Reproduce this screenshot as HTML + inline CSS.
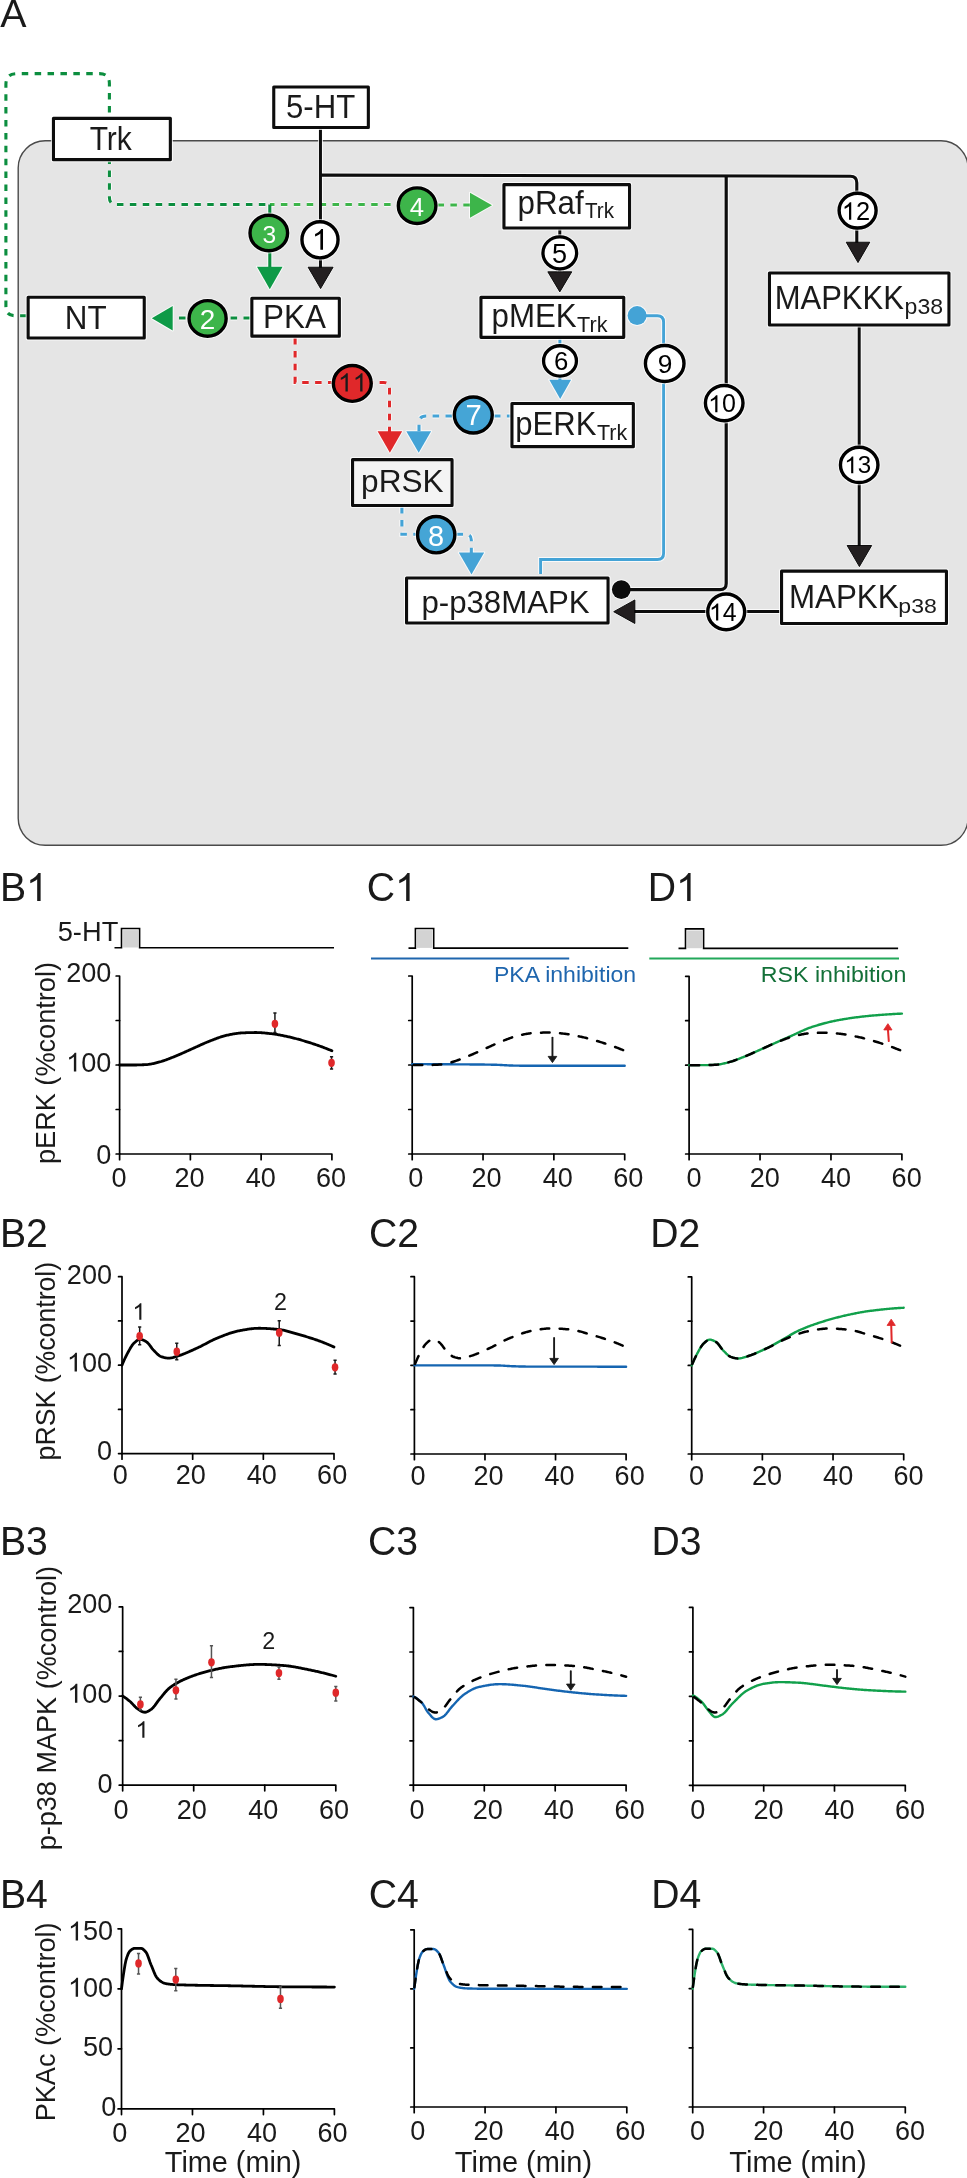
<!DOCTYPE html>
<html><head><meta charset="utf-8"><style>
html,body{margin:0;padding:0;background:#fff;}
body{width:967px;height:2178px;overflow:hidden;}
svg{display:block;font-family:"Liberation Sans", sans-serif;will-change:transform;}
</style></head><body>
<svg width="967" height="2178" viewBox="0 0 967 2178">
<text font-size="39.39" fill="#1a1a1a" transform="translate(0.22,27.00) scale(0.9993,1.0000)">A</text>
<rect x="18.2" y="140.8" width="949.8" height="704.5" rx="27" ry="27" fill="#e5e5e5" stroke="#4a4a4a" stroke-width="1.4"/>
<path d="M26.6,315.7 L14.9,315.7 Q5.9,315.7 5.9,306.7 L5.9,84.6 Q5.9,73.6 16.9,73.6 L99.4,73.6 Q109.4,73.6 109.4,83.6 L109.4,197.5 Q109.4,204.5 116.4,204.5 L269.5,204.5" fill="none" stroke="#fff" stroke-opacity="0.8" stroke-width="5.1" stroke-dasharray="6.5 6.4" />
<path d="M270,204.5 L397,204.5" fill="none" stroke="#fff" stroke-opacity="0.8" stroke-width="5.1" stroke-dasharray="6.5 6.4" stroke-dashoffset="2"/>
<path d="M437.5,205 L472,205" fill="none" stroke="#fff" stroke-opacity="0.8" stroke-width="5.1" stroke-dasharray="6.5 6.4" />
<polygon points="470.00,192.70 470.00,217.70 492.00,205.20" fill="#fff" fill-opacity="0.8" stroke="#fff" stroke-opacity="0.8" stroke-width="2" stroke-linejoin="round"/>
<path d="M269.8,204.5 L269.8,268" fill="none" stroke="#fff" stroke-opacity="0.8" stroke-width="5.1" />
<polygon points="257.00,266.70 282.60,266.70 269.80,289.20" fill="#fff" fill-opacity="0.8" stroke="#fff" stroke-opacity="0.8" stroke-width="2" stroke-linejoin="round"/>
<path d="M250,318 L173,318" fill="none" stroke="#fff" stroke-opacity="0.8" stroke-width="5.1" stroke-dasharray="6.5 6.4" />
<polygon points="172.70,306.00 172.70,330.60 151.80,318.30" fill="#fff" fill-opacity="0.8" stroke="#fff" stroke-opacity="0.8" stroke-width="2" stroke-linejoin="round"/>
<path d="M320.45,129 L320.45,268" fill="none" stroke="#fff" stroke-opacity="0.8" stroke-width="5.0" />
<polygon points="308.10,267.20 333.10,267.20 320.60,288.60" fill="#fff" fill-opacity="0.8" stroke="#fff" stroke-opacity="0.8" stroke-width="2" stroke-linejoin="round"/>
<path d="M320.45,175.15 L850.3,176.2 Q856.8,176.3 856.8,182.8 L856.8,243" fill="none" stroke="#fff" stroke-opacity="0.8" stroke-width="5.1" />
<polygon points="846.20,242.20 869.80,242.20 858.00,262.60" fill="#fff" fill-opacity="0.8" stroke="#fff" stroke-opacity="0.8" stroke-width="2" stroke-linejoin="round"/>
<path d="M726.2,176.0 L726.2,583.5 Q726.2,589.7 720.0,589.7 L625,589.7" fill="none" stroke="#fff" stroke-opacity="0.8" stroke-width="5.2" />
<circle cx="621.3" cy="589.6" r="10.4" fill="#fff" fill-opacity="0.8"/>
<path d="M859.2,326 L859.2,546" fill="none" stroke="#fff" stroke-opacity="0.8" stroke-width="5.0" />
<polygon points="847.10,545.50 871.70,545.50 859.40,566.60" fill="#fff" fill-opacity="0.8" stroke="#fff" stroke-opacity="0.8" stroke-width="2" stroke-linejoin="round"/>
<path d="M780.5,611.5 L634,611.5" fill="none" stroke="#fff" stroke-opacity="0.8" stroke-width="5.1" />
<polygon points="634.90,599.90 634.90,623.50 613.70,611.70" fill="#fff" fill-opacity="0.8" stroke="#fff" stroke-opacity="0.8" stroke-width="2" stroke-linejoin="round"/>
<path d="M559.8,229 L559.8,272" fill="none" stroke="#fff" stroke-opacity="0.8" stroke-width="5.0" />
<polygon points="547.80,271.80 571.80,271.80 559.80,291.90" fill="#fff" fill-opacity="0.8" stroke="#fff" stroke-opacity="0.8" stroke-width="2" stroke-linejoin="round"/>
<path d="M295.1,338 L295.1,382.5 L383.7,382.5 Q389.5,382.5 389.5,388.3 L389.5,432" fill="none" stroke="#fff" stroke-opacity="0.8" stroke-width="5.1" stroke-dasharray="6.5 6.4" />
<polygon points="377.60,431.30 402.20,431.30 389.90,452.80" fill="#fff" fill-opacity="0.8" stroke="#fff" stroke-opacity="0.8" stroke-width="2" stroke-linejoin="round"/>
<path d="M452,416.0 L426.0,416.0 Q419,416.0 419,423.0 L419,432" fill="none" stroke="#fff" stroke-opacity="0.8" stroke-width="5.1" stroke-dasharray="6.5 6.4" />
<path d="M494,416.0 L511,416.0" fill="none" stroke="#fff" stroke-opacity="0.8" stroke-width="5.1" stroke-dasharray="6.5 6.4" />
<polygon points="406.30,431.30 431.10,431.30 418.70,452.80" fill="#fff" fill-opacity="0.8" stroke="#fff" stroke-opacity="0.8" stroke-width="2" stroke-linejoin="round"/>
<path d="M401.9,507 L401.9,534.3 L416,534.3" fill="none" stroke="#fff" stroke-opacity="0.8" stroke-width="5.1" stroke-dasharray="6.5 6.4" />
<path d="M456.5,534.3 L465.5,534.3 Q471.3,534.3 471.3,540 L471.3,553" fill="none" stroke="#fff" stroke-opacity="0.8" stroke-width="5.1" stroke-dasharray="6.5 6.4" />
<polygon points="458.80,552.60 484.20,552.60 471.50,574.50" fill="#fff" fill-opacity="0.8" stroke="#fff" stroke-opacity="0.8" stroke-width="2" stroke-linejoin="round"/>
<path d="M637,315.7 L657.3,315.7 Q663.6,315.7 663.6,322.0 L663.6,553.2 Q663.6,559.5 657.3,559.5 L540.6,559.5 L540.6,574" fill="none" stroke="#fff" stroke-opacity="0.8" stroke-width="4.9" stroke-linejoin="miter"/>
<circle cx="637.1" cy="315.6" r="10.5" fill="#fff" fill-opacity="0.8"/>
<path d="M559.9,338 L559.9,381" fill="none" stroke="#fff" stroke-opacity="0.8" stroke-width="5.0" />
<polygon points="549.30,379.70 571.10,379.70 560.20,399.00" fill="#fff" fill-opacity="0.8" stroke="#fff" stroke-opacity="0.8" stroke-width="2" stroke-linejoin="round"/>
<path d="M26.6,315.7 L14.9,315.7 Q5.9,315.7 5.9,306.7 L5.9,84.6 Q5.9,73.6 16.9,73.6 L99.4,73.6 Q109.4,73.6 109.4,83.6 L109.4,197.5 Q109.4,204.5 116.4,204.5 L269.5,204.5" fill="none" stroke="#0c8e3f" stroke-width="3.1" stroke-dasharray="6.5 6.4" />
<path d="M270,204.5 L397,204.5" fill="none" stroke="#3db54a" stroke-width="3.1" stroke-dasharray="6.5 6.4" stroke-dashoffset="2"/>
<path d="M437.5,205 L472,205" fill="none" stroke="#3db54a" stroke-width="3.1" stroke-dasharray="6.5 6.4" />
<polygon points="470.00,192.70 470.00,217.70 492.00,205.20" fill="#3db54a"/>
<path d="M269.8,204.5 L269.8,268" fill="none" stroke="#0c8e3f" stroke-width="3.1" />
<polygon points="257.00,266.70 282.60,266.70 269.80,289.20" fill="#0e9a47"/>
<path d="M250,318 L173,318" fill="none" stroke="#0c8e3f" stroke-width="3.1" stroke-dasharray="6.5 6.4" />
<polygon points="172.70,306.00 172.70,330.60 151.80,318.30" fill="#0e9a47"/>
<path d="M320.45,129 L320.45,268" fill="none" stroke="#0d0d0d" stroke-width="3.0" />
<polygon points="308.10,267.20 333.10,267.20 320.60,288.60" fill="#231f20" stroke="#000" stroke-width="0.9"/>
<path d="M320.45,175.15 L850.3,176.2 Q856.8,176.3 856.8,182.8 L856.8,243" fill="none" stroke="#0d0d0d" stroke-width="3.1" />
<polygon points="846.20,242.20 869.80,242.20 858.00,262.60" fill="#231f20" stroke="#000" stroke-width="0.9"/>
<path d="M726.2,176.0 L726.2,583.5 Q726.2,589.7 720.0,589.7 L625,589.7" fill="none" stroke="#0d0d0d" stroke-width="3.2" />
<circle cx="621.3" cy="589.6" r="9.4" fill="#0d0d0d"/>
<path d="M859.2,326 L859.2,546" fill="none" stroke="#0d0d0d" stroke-width="3.0" />
<polygon points="847.10,545.50 871.70,545.50 859.40,566.60" fill="#231f20" stroke="#000" stroke-width="0.9"/>
<path d="M780.5,611.5 L634,611.5" fill="none" stroke="#0d0d0d" stroke-width="3.1" />
<polygon points="634.90,599.90 634.90,623.50 613.70,611.70" fill="#231f20" stroke="#000" stroke-width="0.9"/>
<path d="M559.8,229 L559.8,272" fill="none" stroke="#0d0d0d" stroke-width="3.0" />
<polygon points="547.80,271.80 571.80,271.80 559.80,291.90" fill="#231f20" stroke="#000" stroke-width="0.9"/>
<path d="M295.1,338 L295.1,382.5 L383.7,382.5 Q389.5,382.5 389.5,388.3 L389.5,432" fill="none" stroke="#e0282a" stroke-width="3.1" stroke-dasharray="6.5 6.4" />
<polygon points="377.60,431.30 402.20,431.30 389.90,452.80" fill="#e0282a"/>
<path d="M452,416.0 L426.0,416.0 Q419,416.0 419,423.0 L419,432" fill="none" stroke="#44a3d6" stroke-width="3.1" stroke-dasharray="6.5 6.4" />
<path d="M494,416.0 L511,416.0" fill="none" stroke="#44a3d6" stroke-width="3.1" stroke-dasharray="6.5 6.4" />
<polygon points="406.30,431.30 431.10,431.30 418.70,452.80" fill="#44a3d6"/>
<path d="M401.9,507 L401.9,534.3 L416,534.3" fill="none" stroke="#44a3d6" stroke-width="3.1" stroke-dasharray="6.5 6.4" />
<path d="M456.5,534.3 L465.5,534.3 Q471.3,534.3 471.3,540 L471.3,553" fill="none" stroke="#44a3d6" stroke-width="3.1" stroke-dasharray="6.5 6.4" />
<polygon points="458.80,552.60 484.20,552.60 471.50,574.50" fill="#44a3d6"/>
<path d="M637,315.7 L657.3,315.7 Q663.6,315.7 663.6,322.0 L663.6,553.2 Q663.6,559.5 657.3,559.5 L540.6,559.5 L540.6,574" fill="none" stroke="#44a3d6" stroke-width="2.9" stroke-linejoin="miter"/>
<circle cx="637.1" cy="315.6" r="9.5" fill="#44a3d6"/>
<path d="M559.9,338 L559.9,381" fill="none" stroke="#44a3d6" stroke-width="3.0" />
<polygon points="549.30,379.70 571.10,379.70 560.20,399.00" fill="#44a3d6"/>
<rect x="273.75" y="87.05" width="94.60" height="40.50" fill="none" stroke="#fff" stroke-opacity="0.8" stroke-width="5.1" stroke-linejoin="round"/>
<rect x="273.75" y="87.05" width="94.60" height="40.50" fill="#fff" stroke="#0d0d0d" stroke-width="3.1" stroke-linejoin="round"/>
<text font-size="32.70" fill="#1a1a1a" transform="translate(285.95,118.20) scale(0.9531,1.0000)">5-HT</text>
<rect x="53.45" y="118.35" width="116.90" height="41.30" fill="none" stroke="#fff" stroke-opacity="0.8" stroke-width="5.1" stroke-linejoin="round"/>
<rect x="53.45" y="118.35" width="116.90" height="41.30" fill="#fff" stroke="#0d0d0d" stroke-width="3.1" stroke-linejoin="round"/>
<text font-size="32.85" fill="#1a1a1a" transform="translate(89.63,149.50) scale(0.9136,1.0000)">Trk</text>
<rect x="28.15" y="297.25" width="116.10" height="40.80" fill="none" stroke="#fff" stroke-opacity="0.8" stroke-width="5.1" stroke-linejoin="round"/>
<rect x="28.15" y="297.25" width="116.10" height="40.80" fill="#fff" stroke="#0d0d0d" stroke-width="3.1" stroke-linejoin="round"/>
<text font-size="33.28" fill="#1a1a1a" transform="translate(64.82,328.80) scale(0.9443,1.0000)">NT</text>
<rect x="251.85" y="298.25" width="87.50" height="37.90" fill="none" stroke="#fff" stroke-opacity="0.8" stroke-width="5.1" stroke-linejoin="round"/>
<rect x="251.85" y="298.25" width="87.50" height="37.90" fill="#fff" stroke="#0d0d0d" stroke-width="3.1" stroke-linejoin="round"/>
<text font-size="33.14" fill="#1a1a1a" transform="translate(263.02,328.20) scale(0.9476,1.0000)">PKA</text>
<rect x="503.95" y="184.65" width="125.60" height="43.40" fill="none" stroke="#fff" stroke-opacity="0.8" stroke-width="5.1" stroke-linejoin="round"/>
<rect x="503.95" y="184.65" width="125.60" height="43.40" fill="#fff" stroke="#0d0d0d" stroke-width="3.1" stroke-linejoin="round"/>
<text font-size="32.41" fill="#1a1a1a" transform="translate(517.48,213.50) scale(0.9680,1.0000)">pRaf</text>
<text font-size="22.38" fill="#1a1a1a" transform="translate(584.94,218.40) scale(0.9231,1.0000)">Trk</text>
<rect x="480.95" y="297.35" width="142.80" height="40.00" fill="none" stroke="#fff" stroke-opacity="0.8" stroke-width="5.1" stroke-linejoin="round"/>
<rect x="480.95" y="297.35" width="142.80" height="40.00" fill="#fff" stroke="#0d0d0d" stroke-width="3.1" stroke-linejoin="round"/>
<text font-size="32.85" fill="#1a1a1a" transform="translate(491.58,327.00) scale(0.9521,1.0000)">pMEK</text>
<text font-size="21.95" fill="#1a1a1a" transform="translate(577.01,331.80) scale(0.9863,1.0000)">Trk</text>
<rect x="511.95" y="403.45" width="121.40" height="43.20" fill="none" stroke="#fff" stroke-opacity="0.8" stroke-width="5.1" stroke-linejoin="round"/>
<rect x="511.95" y="403.45" width="121.40" height="43.20" fill="#fff" stroke="#0d0d0d" stroke-width="3.1" stroke-linejoin="round"/>
<text font-size="32.70" fill="#1a1a1a" transform="translate(515.30,434.90) scale(0.9499,1.0000)">pERK</text>
<text font-size="21.95" fill="#1a1a1a" transform="translate(596.92,439.90) scale(0.9799,1.0000)">Trk</text>
<rect x="352.55" y="459.65" width="99.50" height="45.90" fill="none" stroke="#fff" stroke-opacity="0.8" stroke-width="5.1" stroke-linejoin="round"/>
<rect x="352.55" y="459.65" width="99.50" height="45.90" fill="#f4f4f4" stroke="#0d0d0d" stroke-width="3.1" stroke-linejoin="round"/>
<text font-size="32.12" fill="#1a1a1a" transform="translate(361.06,492.30) scale(0.9843,1.0000)">pRSK</text>
<rect x="406.55" y="577.95" width="201.50" height="45.10" fill="none" stroke="#fff" stroke-opacity="0.8" stroke-width="5.1" stroke-linejoin="round"/>
<rect x="406.55" y="577.95" width="201.50" height="45.10" fill="#fff" stroke="#0d0d0d" stroke-width="3.1" stroke-linejoin="round"/>
<text font-size="31.40" fill="#1a1a1a" transform="translate(421.39,613.20) scale(0.9940,1.0000)">p-p38MAPK</text>
<rect x="769.45" y="273.05" width="179.50" height="52.00" fill="none" stroke="#fff" stroke-opacity="0.8" stroke-width="5.1" stroke-linejoin="round"/>
<rect x="769.45" y="273.05" width="179.50" height="52.00" fill="#fff" stroke="#0d0d0d" stroke-width="3.1" stroke-linejoin="round"/>
<text font-size="32.85" fill="#1a1a1a" transform="translate(774.66,309.30) scale(0.9436,1.0000)">MAPKKK</text>
<text font-size="21.92" fill="#1a1a1a" transform="translate(904.61,314.40) scale(1.0524,1.0000)">p38</text>
<rect x="781.55" y="571.15" width="164.90" height="52.40" fill="none" stroke="#fff" stroke-opacity="0.8" stroke-width="5.1" stroke-linejoin="round"/>
<rect x="781.55" y="571.15" width="164.90" height="52.40" fill="#fff" stroke="#0d0d0d" stroke-width="3.1" stroke-linejoin="round"/>
<text font-size="33.14" fill="#1a1a1a" transform="translate(788.93,607.80) scale(0.9457,1.0000)">MAPKK</text>
<text font-size="21.06" fill="#1a1a1a" transform="translate(898.31,612.50) scale(1.0954,1.0000)">p38</text>
<ellipse cx="320.00" cy="239.80" rx="20.75" ry="20.75" fill="#ffffff" opacity="0.7"/>
<ellipse cx="320.00" cy="239.80" rx="18.05" ry="18.05" fill="#fff" stroke="#000" stroke-width="3.4"/>
<path d="M763,0 H583 V1147 Q518,1085 412,1023 T223,930 V1104 Q374,1175 487,1276 T647,1466 H763 Z" fill="#000" transform="translate(311.81,249.70) scale(0.01469,-0.01412)"/>
<ellipse cx="207.60" cy="318.40" rx="21.25" ry="20.50" fill="#ffffff" opacity="0.7"/>
<ellipse cx="207.60" cy="318.40" rx="18.55" ry="17.80" fill="#3db54a" stroke="#000" stroke-width="3.4"/>
<text font-size="27.94" fill="#fff" transform="translate(199.83,328.80) scale(1.0000,1.0000)">2</text>
<ellipse cx="268.80" cy="233.00" rx="21.50" ry="20.50" fill="#ffffff" opacity="0.7"/>
<ellipse cx="268.80" cy="233.00" rx="18.80" ry="17.80" fill="#3db54a" stroke="#000" stroke-width="3.4"/>
<text font-size="24.58" fill="#fff" transform="translate(262.49,242.86) scale(1.0000,1.0000)">3</text>
<ellipse cx="417.10" cy="205.70" rx="21.50" ry="20.50" fill="#ffffff" opacity="0.7"/>
<ellipse cx="417.10" cy="205.70" rx="18.80" ry="17.80" fill="#3db54a" stroke="#000" stroke-width="3.4"/>
<text font-size="25.73" fill="#fff" transform="translate(409.68,215.70) scale(1.0000,1.0000)">4</text>
<ellipse cx="559.80" cy="252.90" rx="19.50" ry="18.60" fill="#ffffff" opacity="0.7"/>
<ellipse cx="559.80" cy="252.90" rx="16.85" ry="15.95" fill="#fff" stroke="#000" stroke-width="3.3"/>
<text font-size="27.09" fill="#000" transform="translate(551.89,263.14) scale(1.0000,1.0000)">5</text>
<ellipse cx="560.00" cy="360.90" rx="19.10" ry="17.80" fill="#ffffff" opacity="0.7"/>
<ellipse cx="560.00" cy="360.90" rx="16.45" ry="15.15" fill="#fff" stroke="#000" stroke-width="3.3"/>
<text font-size="25.71" fill="#000" transform="translate(553.91,369.55) scale(1.0000,1.0000)">6</text>
<ellipse cx="473.30" cy="415.00" rx="21.65" ry="20.70" fill="#ffffff" opacity="0.7"/>
<ellipse cx="473.30" cy="415.00" rx="18.95" ry="18.00" fill="#45a5d6" stroke="#000" stroke-width="3.4"/>
<text font-size="29.22" fill="#fff" transform="translate(465.41,425.00) scale(1.0000,1.0000)">7</text>
<ellipse cx="436.20" cy="534.70" rx="21.35" ry="20.90" fill="#ffffff" opacity="0.7"/>
<ellipse cx="436.20" cy="534.70" rx="18.65" ry="18.20" fill="#45a5d6" stroke="#000" stroke-width="3.4"/>
<text font-size="28.96" fill="#fff" transform="translate(428.00,545.82) scale(1.0000,1.0000)">8</text>
<ellipse cx="664.70" cy="363.50" rx="22.00" ry="20.70" fill="#ffffff" opacity="0.7"/>
<ellipse cx="664.70" cy="363.50" rx="19.30" ry="18.00" fill="#fff" stroke="#000" stroke-width="3.4"/>
<text font-size="26.28" fill="#000" transform="translate(657.80,372.64) scale(1.0000,1.0000)">9</text>
<ellipse cx="724.20" cy="403.10" rx="21.50" ry="20.35" fill="#ffffff" opacity="0.7"/>
<ellipse cx="724.20" cy="403.10" rx="18.80" ry="17.65" fill="#fff" stroke="#000" stroke-width="3.4"/>
<path d="M763,0 H583 V1147 Q518,1085 412,1023 T223,930 V1104 Q374,1175 487,1276 T647,1466 H763 Z" fill="#000" transform="translate(708.12,412.36) scale(0.01221,-0.01173)"/>
<text font-size="25.01" fill="#000" transform="translate(722.03,412.36) scale(1.0000,1.0000)">0</text>
<ellipse cx="352.30" cy="383.40" rx="21.65" ry="20.65" fill="#ffffff" opacity="0.7"/>
<ellipse cx="352.30" cy="383.40" rx="18.95" ry="17.95" fill="#e0282a" stroke="#000" stroke-width="3.4"/>
<path d="M763,0 H583 V1147 Q518,1085 412,1023 T223,930 V1104 Q374,1175 487,1276 T647,1466 H763 Z" fill="#1a1a1a" transform="translate(337.93,391.40) scale(0.01292,-0.01241)"/>
<path d="M763,0 H583 V1147 Q518,1085 412,1023 T223,930 V1104 Q374,1175 487,1276 T647,1466 H763 Z" fill="#1a1a1a" transform="translate(352.64,391.40) scale(0.01292,-0.01241)"/>
<ellipse cx="857.60" cy="210.60" rx="21.20" ry="20.10" fill="#ffffff" opacity="0.7"/>
<ellipse cx="857.60" cy="210.60" rx="18.50" ry="17.40" fill="#fff" stroke="#000" stroke-width="3.4"/>
<path d="M763,0 H583 V1147 Q518,1085 412,1023 T223,930 V1104 Q374,1175 487,1276 T647,1466 H763 Z" fill="#000" transform="translate(841.80,219.80) scale(0.01238,-0.01190)"/>
<text font-size="25.36" fill="#000" transform="translate(855.91,219.80) scale(1.0000,1.0000)">2</text>
<ellipse cx="859.20" cy="464.90" rx="21.45" ry="20.35" fill="#ffffff" opacity="0.7"/>
<ellipse cx="859.20" cy="464.90" rx="18.75" ry="17.65" fill="#fff" stroke="#000" stroke-width="3.4"/>
<path d="M763,0 H583 V1147 Q518,1085 412,1023 T223,930 V1104 Q374,1175 487,1276 T647,1466 H763 Z" fill="#000" transform="translate(844.28,473.16) scale(0.01180,-0.01134)"/>
<text font-size="24.16" fill="#000" transform="translate(857.72,473.16) scale(1.0000,1.0000)">3</text>
<ellipse cx="726.20" cy="611.90" rx="21.15" ry="20.55" fill="#ffffff" opacity="0.7"/>
<ellipse cx="726.20" cy="611.90" rx="18.45" ry="17.85" fill="#fff" stroke="#000" stroke-width="3.4"/>
<path d="M763,0 H583 V1147 Q518,1085 412,1023 T223,930 V1104 Q374,1175 487,1276 T647,1466 H763 Z" fill="#000" transform="translate(708.99,620.60) scale(0.01214,-0.01166)"/>
<text font-size="24.85" fill="#000" transform="translate(722.81,620.60) scale(1.0000,1.0000)">4</text>
<text font-size="40.40" fill="#1a1a1a" transform="translate(-0.11,900.90) scale(0.9700,1.0000)">B</text>
<path d="M763,0 H583 V1147 Q518,1085 412,1023 T223,930 V1104 Q374,1175 487,1276 T647,1466 H763 Z" fill="#1a1a1a" transform="translate(26.02,900.90) scale(0.01913,-0.01896)"/>
<text font-size="40.40" fill="#1a1a1a" transform="translate(366.71,900.90) scale(0.9700,1.0000)">C</text>
<path d="M763,0 H583 V1147 Q518,1085 412,1023 T223,930 V1104 Q374,1175 487,1276 T647,1466 H763 Z" fill="#1a1a1a" transform="translate(395.01,900.90) scale(0.01913,-0.01896)"/>
<text font-size="40.40" fill="#1a1a1a" transform="translate(647.69,900.90) scale(0.9700,1.0000)">D</text>
<path d="M763,0 H583 V1147 Q518,1085 412,1023 T223,930 V1104 Q374,1175 487,1276 T647,1466 H763 Z" fill="#1a1a1a" transform="translate(675.99,900.90) scale(0.01913,-0.01896)"/>
<text font-size="40.40" fill="#1a1a1a" transform="translate(-0.11,1246.70) scale(0.9700,1.0000)">B2</text>
<text font-size="40.40" fill="#1a1a1a" transform="translate(368.91,1246.70) scale(0.9700,1.0000)">C2</text>
<text font-size="40.40" fill="#1a1a1a" transform="translate(650.29,1246.70) scale(0.9700,1.0000)">D2</text>
<text font-size="40.40" fill="#1a1a1a" transform="translate(-0.11,1554.70) scale(0.9700,1.0000)">B3</text>
<text font-size="40.40" fill="#1a1a1a" transform="translate(367.91,1554.70) scale(0.9700,1.0000)">C3</text>
<text font-size="40.40" fill="#1a1a1a" transform="translate(651.49,1554.70) scale(0.9700,1.0000)">D3</text>
<text font-size="40.40" fill="#1a1a1a" transform="translate(-0.11,1908.40) scale(0.9700,1.0000)">B4</text>
<text font-size="40.40" fill="#1a1a1a" transform="translate(368.71,1908.40) scale(0.9700,1.0000)">C4</text>
<text font-size="40.40" fill="#1a1a1a" transform="translate(651.29,1908.40) scale(0.9700,1.0000)">D4</text>
<rect x="123.10" y="930.10" width="14.90" height="17.40" fill="#d3d3d3"/>
<path d="M114.50,947.70 L121.50,947.70 L121.50,928.50 L139.60,928.50 L139.60,947.70 L334.00,947.70" fill="none" stroke="#000" stroke-width="1.6" />
<text font-size="27.91" fill="#1a1a1a" transform="translate(57.71,941.40) scale(0.9775,1.0000)">5-HT</text>
<rect x="417.00" y="930.10" width="15.10" height="17.80" fill="#d3d3d3"/>
<path d="M408.50,948.10 L415.40,948.10 L415.40,928.50 L433.70,928.50 L433.70,948.10 L628.30,948.10" fill="none" stroke="#000" stroke-width="1.6" />
<rect x="687.10" y="930.50" width="14.90" height="17.70" fill="#d3d3d3"/>
<path d="M678.50,948.40 L685.50,948.40 L685.50,928.90 L703.60,928.90 L703.60,948.40 L898.10,948.40" fill="none" stroke="#000" stroke-width="1.6" />
<path d="M371,958.6 L569.2,958.6" fill="none" stroke="#1f66ae" stroke-width="2.0" />
<text font-size="21.53" fill="#1f66ae" transform="translate(493.91,982.00) scale(1.0712,1.0000)">PKA inhibition</text>
<path d="M649.3,958.5 L899.0,958.5" fill="none" stroke="#22a85a" stroke-width="2.0" />
<text font-size="21.53" fill="#137038" transform="translate(760.80,982.00) scale(1.0767,1.0000)">RSK inhibition</text>
<path d="M116.15,976.00 L119.60,976.00 L119.60,1154.00 L331.90,1154.00 L331.90,1159.65" fill="none" stroke="#000" stroke-width="1.7" stroke-linecap="round" stroke-linejoin="round"/>
<path d="M116.15,1109.50 L119.60,1109.50" fill="none" stroke="#000" stroke-width="1.7" stroke-linecap="round" stroke-linejoin="round"/>
<path d="M116.15,1065.00 L119.60,1065.00" fill="none" stroke="#000" stroke-width="1.7" stroke-linecap="round" stroke-linejoin="round"/>
<path d="M116.15,1020.50 L119.60,1020.50" fill="none" stroke="#000" stroke-width="1.7" stroke-linecap="round" stroke-linejoin="round"/>
<path d="M116.15,1154.00 L119.60,1154.00" fill="none" stroke="#000" stroke-width="1.7" stroke-linecap="round" stroke-linejoin="round"/>
<path d="M119.60,1154.00 L119.60,1159.65" fill="none" stroke="#000" stroke-width="1.7" stroke-linecap="round" stroke-linejoin="round"/>
<text font-size="27.50" fill="#1a1a1a" transform="translate(111.42,1186.53) scale(0.9850,1.0000)">0</text>
<path d="M190.37,1154.00 L190.37,1159.65" fill="none" stroke="#000" stroke-width="1.7" stroke-linecap="round" stroke-linejoin="round"/>
<text font-size="27.50" fill="#1a1a1a" transform="translate(174.50,1186.53) scale(0.9850,1.0000)">20</text>
<path d="M261.13,1154.00 L261.13,1159.65" fill="none" stroke="#000" stroke-width="1.7" stroke-linecap="round" stroke-linejoin="round"/>
<text font-size="27.50" fill="#1a1a1a" transform="translate(245.64,1186.53) scale(0.9850,1.0000)">40</text>
<text font-size="27.50" fill="#1a1a1a" transform="translate(316.03,1186.53) scale(0.9850,1.0000)">60</text>
<text font-size="27.50" fill="#1a1a1a" transform="translate(66.16,982.36) scale(0.9850,1.0000)">200</text>
<path d="M763,0 H583 V1147 Q518,1085 412,1023 T223,930 V1104 Q374,1175 487,1276 T647,1466 H763 Z" fill="#1a1a1a" transform="translate(66.16,1071.61) scale(0.01323,-0.01290)"/>
<text font-size="27.50" fill="#1a1a1a" transform="translate(81.23,1071.61) scale(0.9850,1.0000)">00</text>
<text font-size="27.50" fill="#1a1a1a" transform="translate(96.29,1163.86) scale(0.9850,1.0000)">0</text>
<text font-size="27.91" fill="#1a1a1a" transform="translate(54.80,1164.05) rotate(-90) scale(0.9722,1)">pERK (%control)</text>
<path d="M408.75,976.00 L412.20,976.00 L412.20,1154.00 L624.70,1154.00 L624.70,1159.65" fill="none" stroke="#000" stroke-width="1.7" stroke-linecap="round" stroke-linejoin="round"/>
<path d="M408.75,1109.50 L412.20,1109.50" fill="none" stroke="#000" stroke-width="1.7" stroke-linecap="round" stroke-linejoin="round"/>
<path d="M408.75,1065.00 L412.20,1065.00" fill="none" stroke="#000" stroke-width="1.7" stroke-linecap="round" stroke-linejoin="round"/>
<path d="M408.75,1020.50 L412.20,1020.50" fill="none" stroke="#000" stroke-width="1.7" stroke-linecap="round" stroke-linejoin="round"/>
<path d="M408.75,1154.00 L412.20,1154.00" fill="none" stroke="#000" stroke-width="1.7" stroke-linecap="round" stroke-linejoin="round"/>
<path d="M412.20,1154.00 L412.20,1159.65" fill="none" stroke="#000" stroke-width="1.7" stroke-linecap="round" stroke-linejoin="round"/>
<text font-size="27.50" fill="#1a1a1a" transform="translate(408.37,1186.53) scale(0.9850,1.0000)">0</text>
<path d="M483.03,1154.00 L483.03,1159.65" fill="none" stroke="#000" stroke-width="1.7" stroke-linecap="round" stroke-linejoin="round"/>
<text font-size="27.50" fill="#1a1a1a" transform="translate(471.52,1186.53) scale(0.9850,1.0000)">20</text>
<path d="M553.87,1154.00 L553.87,1159.65" fill="none" stroke="#000" stroke-width="1.7" stroke-linecap="round" stroke-linejoin="round"/>
<text font-size="27.50" fill="#1a1a1a" transform="translate(542.72,1186.53) scale(0.9850,1.0000)">40</text>
<text font-size="27.50" fill="#1a1a1a" transform="translate(613.18,1186.53) scale(0.9850,1.0000)">60</text>
<path d="M685.65,976.30 L689.10,976.30 L689.10,1154.00 L901.90,1154.00 L901.90,1159.65" fill="none" stroke="#000" stroke-width="1.7" stroke-linecap="round" stroke-linejoin="round"/>
<path d="M685.65,1109.58 L689.10,1109.58" fill="none" stroke="#000" stroke-width="1.7" stroke-linecap="round" stroke-linejoin="round"/>
<path d="M685.65,1065.15 L689.10,1065.15" fill="none" stroke="#000" stroke-width="1.7" stroke-linecap="round" stroke-linejoin="round"/>
<path d="M685.65,1020.72 L689.10,1020.72" fill="none" stroke="#000" stroke-width="1.7" stroke-linecap="round" stroke-linejoin="round"/>
<path d="M685.65,1154.00 L689.10,1154.00" fill="none" stroke="#000" stroke-width="1.7" stroke-linecap="round" stroke-linejoin="round"/>
<path d="M689.10,1154.00 L689.10,1159.65" fill="none" stroke="#000" stroke-width="1.7" stroke-linecap="round" stroke-linejoin="round"/>
<text font-size="27.50" fill="#1a1a1a" transform="translate(686.47,1186.53) scale(0.9850,1.0000)">0</text>
<path d="M760.03,1154.00 L760.03,1159.65" fill="none" stroke="#000" stroke-width="1.7" stroke-linecap="round" stroke-linejoin="round"/>
<text font-size="27.50" fill="#1a1a1a" transform="translate(749.72,1186.53) scale(0.9850,1.0000)">20</text>
<path d="M830.97,1154.00 L830.97,1159.65" fill="none" stroke="#000" stroke-width="1.7" stroke-linecap="round" stroke-linejoin="round"/>
<text font-size="27.50" fill="#1a1a1a" transform="translate(821.02,1186.53) scale(0.9850,1.0000)">40</text>
<text font-size="27.50" fill="#1a1a1a" transform="translate(891.58,1186.53) scale(0.9850,1.0000)">60</text>
<path d="M118.55,1276.70 L122.00,1276.70 L122.00,1453.60 L334.00,1453.60 L334.00,1459.25" fill="none" stroke="#000" stroke-width="1.7" stroke-linecap="round" stroke-linejoin="round"/>
<path d="M118.55,1409.38 L122.00,1409.38" fill="none" stroke="#000" stroke-width="1.7" stroke-linecap="round" stroke-linejoin="round"/>
<path d="M118.55,1365.15 L122.00,1365.15" fill="none" stroke="#000" stroke-width="1.7" stroke-linecap="round" stroke-linejoin="round"/>
<path d="M118.55,1320.92 L122.00,1320.92" fill="none" stroke="#000" stroke-width="1.7" stroke-linecap="round" stroke-linejoin="round"/>
<path d="M118.55,1453.60 L122.00,1453.60" fill="none" stroke="#000" stroke-width="1.7" stroke-linecap="round" stroke-linejoin="round"/>
<path d="M122.00,1453.60 L122.00,1459.25" fill="none" stroke="#000" stroke-width="1.7" stroke-linecap="round" stroke-linejoin="round"/>
<text font-size="27.50" fill="#1a1a1a" transform="translate(112.77,1484.13) scale(0.9850,1.0000)">0</text>
<path d="M192.67,1453.60 L192.67,1459.25" fill="none" stroke="#000" stroke-width="1.7" stroke-linecap="round" stroke-linejoin="round"/>
<text font-size="27.50" fill="#1a1a1a" transform="translate(175.75,1484.13) scale(0.9850,1.0000)">20</text>
<path d="M263.33,1453.60 L263.33,1459.25" fill="none" stroke="#000" stroke-width="1.7" stroke-linecap="round" stroke-linejoin="round"/>
<text font-size="27.50" fill="#1a1a1a" transform="translate(246.79,1484.13) scale(0.9850,1.0000)">40</text>
<text font-size="27.50" fill="#1a1a1a" transform="translate(317.08,1484.13) scale(0.9850,1.0000)">60</text>
<text font-size="27.50" fill="#1a1a1a" transform="translate(66.86,1284.06) scale(0.9850,1.0000)">200</text>
<path d="M763,0 H583 V1147 Q518,1085 412,1023 T223,930 V1104 Q374,1175 487,1276 T647,1466 H763 Z" fill="#1a1a1a" transform="translate(66.86,1371.61) scale(0.01323,-0.01290)"/>
<text font-size="27.50" fill="#1a1a1a" transform="translate(81.93,1371.61) scale(0.9850,1.0000)">00</text>
<text font-size="27.50" fill="#1a1a1a" transform="translate(96.99,1460.21) scale(0.9850,1.0000)">0</text>
<text font-size="28.05" fill="#1a1a1a" transform="translate(55.10,1460.42) rotate(-90) scale(0.9511,1)">pRSK (%control)</text>
<path d="M410.95,1276.70 L414.40,1276.70 L414.40,1454.00 L626.10,1454.00 L626.10,1459.65" fill="none" stroke="#000" stroke-width="1.7" stroke-linecap="round" stroke-linejoin="round"/>
<path d="M410.95,1409.67 L414.40,1409.67" fill="none" stroke="#000" stroke-width="1.7" stroke-linecap="round" stroke-linejoin="round"/>
<path d="M410.95,1365.35 L414.40,1365.35" fill="none" stroke="#000" stroke-width="1.7" stroke-linecap="round" stroke-linejoin="round"/>
<path d="M410.95,1321.03 L414.40,1321.03" fill="none" stroke="#000" stroke-width="1.7" stroke-linecap="round" stroke-linejoin="round"/>
<path d="M410.95,1454.00 L414.40,1454.00" fill="none" stroke="#000" stroke-width="1.7" stroke-linecap="round" stroke-linejoin="round"/>
<path d="M414.40,1454.00 L414.40,1459.65" fill="none" stroke="#000" stroke-width="1.7" stroke-linecap="round" stroke-linejoin="round"/>
<text font-size="27.50" fill="#1a1a1a" transform="translate(410.57,1484.53) scale(0.9850,1.0000)">0</text>
<path d="M484.97,1454.00 L484.97,1459.65" fill="none" stroke="#000" stroke-width="1.7" stroke-linecap="round" stroke-linejoin="round"/>
<text font-size="27.50" fill="#1a1a1a" transform="translate(473.45,1484.53) scale(0.9850,1.0000)">20</text>
<path d="M555.53,1454.00 L555.53,1459.65" fill="none" stroke="#000" stroke-width="1.7" stroke-linecap="round" stroke-linejoin="round"/>
<text font-size="27.50" fill="#1a1a1a" transform="translate(544.39,1484.53) scale(0.9850,1.0000)">40</text>
<text font-size="27.50" fill="#1a1a1a" transform="translate(614.58,1484.53) scale(0.9850,1.0000)">60</text>
<path d="M688.25,1276.90 L691.70,1276.90 L691.70,1454.00 L903.70,1454.00 L903.70,1459.65" fill="none" stroke="#000" stroke-width="1.7" stroke-linecap="round" stroke-linejoin="round"/>
<path d="M688.25,1409.72 L691.70,1409.72" fill="none" stroke="#000" stroke-width="1.7" stroke-linecap="round" stroke-linejoin="round"/>
<path d="M688.25,1365.45 L691.70,1365.45" fill="none" stroke="#000" stroke-width="1.7" stroke-linecap="round" stroke-linejoin="round"/>
<path d="M688.25,1321.18 L691.70,1321.18" fill="none" stroke="#000" stroke-width="1.7" stroke-linecap="round" stroke-linejoin="round"/>
<path d="M688.25,1454.00 L691.70,1454.00" fill="none" stroke="#000" stroke-width="1.7" stroke-linecap="round" stroke-linejoin="round"/>
<path d="M691.70,1454.00 L691.70,1459.65" fill="none" stroke="#000" stroke-width="1.7" stroke-linecap="round" stroke-linejoin="round"/>
<text font-size="27.50" fill="#1a1a1a" transform="translate(689.07,1484.53) scale(0.9850,1.0000)">0</text>
<path d="M762.37,1454.00 L762.37,1459.65" fill="none" stroke="#000" stroke-width="1.7" stroke-linecap="round" stroke-linejoin="round"/>
<text font-size="27.50" fill="#1a1a1a" transform="translate(752.05,1484.53) scale(0.9850,1.0000)">20</text>
<path d="M833.03,1454.00 L833.03,1459.65" fill="none" stroke="#000" stroke-width="1.7" stroke-linecap="round" stroke-linejoin="round"/>
<text font-size="27.50" fill="#1a1a1a" transform="translate(823.09,1484.53) scale(0.9850,1.0000)">40</text>
<text font-size="27.50" fill="#1a1a1a" transform="translate(893.38,1484.53) scale(0.9850,1.0000)">60</text>
<path d="M119.20,1606.90 L122.65,1606.90 L122.65,1785.15 L335.80,1785.15 L335.80,1790.80" fill="none" stroke="#000" stroke-width="1.7" stroke-linecap="round" stroke-linejoin="round"/>
<path d="M119.20,1740.59 L122.65,1740.59" fill="none" stroke="#000" stroke-width="1.7" stroke-linecap="round" stroke-linejoin="round"/>
<path d="M119.20,1696.03 L122.65,1696.03" fill="none" stroke="#000" stroke-width="1.7" stroke-linecap="round" stroke-linejoin="round"/>
<path d="M119.20,1651.46 L122.65,1651.46" fill="none" stroke="#000" stroke-width="1.7" stroke-linecap="round" stroke-linejoin="round"/>
<path d="M119.20,1785.15 L122.65,1785.15" fill="none" stroke="#000" stroke-width="1.7" stroke-linecap="round" stroke-linejoin="round"/>
<path d="M122.65,1785.15 L122.65,1790.80" fill="none" stroke="#000" stroke-width="1.7" stroke-linecap="round" stroke-linejoin="round"/>
<text font-size="27.50" fill="#1a1a1a" transform="translate(113.42,1818.98) scale(0.9850,1.0000)">0</text>
<path d="M193.70,1785.15 L193.70,1790.80" fill="none" stroke="#000" stroke-width="1.7" stroke-linecap="round" stroke-linejoin="round"/>
<text font-size="27.50" fill="#1a1a1a" transform="translate(176.78,1818.98) scale(0.9850,1.0000)">20</text>
<path d="M264.75,1785.15 L264.75,1790.80" fill="none" stroke="#000" stroke-width="1.7" stroke-linecap="round" stroke-linejoin="round"/>
<text font-size="27.50" fill="#1a1a1a" transform="translate(248.20,1818.98) scale(0.9850,1.0000)">40</text>
<text font-size="27.50" fill="#1a1a1a" transform="translate(318.88,1818.98) scale(0.9850,1.0000)">60</text>
<text font-size="27.50" fill="#1a1a1a" transform="translate(67.26,1613.46) scale(0.9850,1.0000)">200</text>
<path d="M763,0 H583 V1147 Q518,1085 412,1023 T223,930 V1104 Q374,1175 487,1276 T647,1466 H763 Z" fill="#1a1a1a" transform="translate(67.26,1702.71) scale(0.01323,-0.01290)"/>
<text font-size="27.50" fill="#1a1a1a" transform="translate(82.33,1702.71) scale(0.9850,1.0000)">00</text>
<text font-size="27.50" fill="#1a1a1a" transform="translate(97.39,1793.21) scale(0.9850,1.0000)">0</text>
<text font-size="28.49" fill="#1a1a1a" transform="translate(55.90,1850.35) rotate(-90) scale(0.9505,1)">p-p38 MAPK (%control)</text>
<path d="M409.95,1607.60 L413.40,1607.60 L413.40,1785.20 L626.10,1785.20 L626.10,1790.85" fill="none" stroke="#000" stroke-width="1.7" stroke-linecap="round" stroke-linejoin="round"/>
<path d="M409.95,1740.80 L413.40,1740.80" fill="none" stroke="#000" stroke-width="1.7" stroke-linecap="round" stroke-linejoin="round"/>
<path d="M409.95,1696.40 L413.40,1696.40" fill="none" stroke="#000" stroke-width="1.7" stroke-linecap="round" stroke-linejoin="round"/>
<path d="M409.95,1652.00 L413.40,1652.00" fill="none" stroke="#000" stroke-width="1.7" stroke-linecap="round" stroke-linejoin="round"/>
<path d="M409.95,1785.20 L413.40,1785.20" fill="none" stroke="#000" stroke-width="1.7" stroke-linecap="round" stroke-linejoin="round"/>
<path d="M413.40,1785.20 L413.40,1790.85" fill="none" stroke="#000" stroke-width="1.7" stroke-linecap="round" stroke-linejoin="round"/>
<text font-size="27.50" fill="#1a1a1a" transform="translate(409.57,1819.03) scale(0.9850,1.0000)">0</text>
<path d="M484.30,1785.20 L484.30,1790.85" fill="none" stroke="#000" stroke-width="1.7" stroke-linecap="round" stroke-linejoin="round"/>
<text font-size="27.50" fill="#1a1a1a" transform="translate(472.78,1819.03) scale(0.9850,1.0000)">20</text>
<path d="M555.20,1785.20 L555.20,1790.85" fill="none" stroke="#000" stroke-width="1.7" stroke-linecap="round" stroke-linejoin="round"/>
<text font-size="27.50" fill="#1a1a1a" transform="translate(544.05,1819.03) scale(0.9850,1.0000)">40</text>
<text font-size="27.50" fill="#1a1a1a" transform="translate(614.58,1819.03) scale(0.9850,1.0000)">60</text>
<path d="M689.45,1607.40 L692.90,1607.40 L692.90,1785.30 L905.30,1785.30 L905.30,1790.95" fill="none" stroke="#000" stroke-width="1.7" stroke-linecap="round" stroke-linejoin="round"/>
<path d="M689.45,1740.83 L692.90,1740.83" fill="none" stroke="#000" stroke-width="1.7" stroke-linecap="round" stroke-linejoin="round"/>
<path d="M689.45,1696.35 L692.90,1696.35" fill="none" stroke="#000" stroke-width="1.7" stroke-linecap="round" stroke-linejoin="round"/>
<path d="M689.45,1651.88 L692.90,1651.88" fill="none" stroke="#000" stroke-width="1.7" stroke-linecap="round" stroke-linejoin="round"/>
<path d="M689.45,1785.30 L692.90,1785.30" fill="none" stroke="#000" stroke-width="1.7" stroke-linecap="round" stroke-linejoin="round"/>
<path d="M692.90,1785.30 L692.90,1790.95" fill="none" stroke="#000" stroke-width="1.7" stroke-linecap="round" stroke-linejoin="round"/>
<text font-size="27.50" fill="#1a1a1a" transform="translate(690.27,1819.13) scale(0.9850,1.0000)">0</text>
<path d="M763.70,1785.30 L763.70,1790.95" fill="none" stroke="#000" stroke-width="1.7" stroke-linecap="round" stroke-linejoin="round"/>
<text font-size="27.50" fill="#1a1a1a" transform="translate(753.38,1819.13) scale(0.9850,1.0000)">20</text>
<path d="M834.50,1785.30 L834.50,1790.95" fill="none" stroke="#000" stroke-width="1.7" stroke-linecap="round" stroke-linejoin="round"/>
<text font-size="27.50" fill="#1a1a1a" transform="translate(824.55,1819.13) scale(0.9850,1.0000)">40</text>
<text font-size="27.50" fill="#1a1a1a" transform="translate(894.98,1819.13) scale(0.9850,1.0000)">60</text>
<path d="M118.05,1928.80 L121.50,1928.80 L121.50,2108.90 L334.40,2108.90 L334.40,2114.55" fill="none" stroke="#000" stroke-width="1.7" stroke-linecap="round" stroke-linejoin="round"/>
<path d="M118.05,2048.87 L121.50,2048.87" fill="none" stroke="#000" stroke-width="1.7" stroke-linecap="round" stroke-linejoin="round"/>
<path d="M118.05,1988.83 L121.50,1988.83" fill="none" stroke="#000" stroke-width="1.7" stroke-linecap="round" stroke-linejoin="round"/>
<path d="M118.05,2108.90 L121.50,2108.90" fill="none" stroke="#000" stroke-width="1.7" stroke-linecap="round" stroke-linejoin="round"/>
<path d="M121.50,2108.90 L121.50,2114.55" fill="none" stroke="#000" stroke-width="1.7" stroke-linecap="round" stroke-linejoin="round"/>
<text font-size="27.50" fill="#1a1a1a" transform="translate(112.27,2142.13) scale(0.9850,1.0000)">0</text>
<path d="M192.47,2108.90 L192.47,2114.55" fill="none" stroke="#000" stroke-width="1.7" stroke-linecap="round" stroke-linejoin="round"/>
<text font-size="27.50" fill="#1a1a1a" transform="translate(175.55,2142.13) scale(0.9850,1.0000)">20</text>
<path d="M263.43,2108.90 L263.43,2114.55" fill="none" stroke="#000" stroke-width="1.7" stroke-linecap="round" stroke-linejoin="round"/>
<text font-size="27.50" fill="#1a1a1a" transform="translate(246.89,2142.13) scale(0.9850,1.0000)">40</text>
<text font-size="27.50" fill="#1a1a1a" transform="translate(317.48,2142.13) scale(0.9850,1.0000)">60</text>
<path d="M763,0 H583 V1147 Q518,1085 412,1023 T223,930 V1104 Q374,1175 487,1276 T647,1466 H763 Z" fill="#1a1a1a" transform="translate(67.96,1940.46) scale(0.01323,-0.01290)"/>
<text font-size="27.50" fill="#1a1a1a" transform="translate(83.03,1940.46) scale(0.9850,1.0000)">50</text>
<path d="M763,0 H583 V1147 Q518,1085 412,1023 T223,930 V1104 Q374,1175 487,1276 T647,1466 H763 Z" fill="#1a1a1a" transform="translate(67.96,1996.71) scale(0.01323,-0.01290)"/>
<text font-size="27.50" fill="#1a1a1a" transform="translate(83.03,1996.71) scale(0.9850,1.0000)">00</text>
<text font-size="27.50" fill="#1a1a1a" transform="translate(83.03,2055.51) scale(0.9850,1.0000)">50</text>
<text font-size="27.50" fill="#1a1a1a" transform="translate(101.19,2116.01) scale(0.9850,1.0000)">0</text>
<text font-size="27.62" fill="#1a1a1a" transform="translate(55.10,2121.32) rotate(-90) scale(0.9819,1)">PKAc (%control)</text>
<text font-size="29.36" fill="#1a1a1a" transform="translate(164.85,2171.60) scale(0.9820,1.0000)">Time (min)</text>
<path d="M410.75,1929.80 L414.20,1929.80 L414.20,2107.00 L626.80,2107.00 L626.80,2112.65" fill="none" stroke="#000" stroke-width="1.7" stroke-linecap="round" stroke-linejoin="round"/>
<path d="M410.75,2047.93 L414.20,2047.93" fill="none" stroke="#000" stroke-width="1.7" stroke-linecap="round" stroke-linejoin="round"/>
<path d="M410.75,1988.87 L414.20,1988.87" fill="none" stroke="#000" stroke-width="1.7" stroke-linecap="round" stroke-linejoin="round"/>
<path d="M410.75,2107.00 L414.20,2107.00" fill="none" stroke="#000" stroke-width="1.7" stroke-linecap="round" stroke-linejoin="round"/>
<path d="M414.20,2107.00 L414.20,2112.65" fill="none" stroke="#000" stroke-width="1.7" stroke-linecap="round" stroke-linejoin="round"/>
<text font-size="27.50" fill="#1a1a1a" transform="translate(410.37,2140.23) scale(0.9850,1.0000)">0</text>
<path d="M485.07,2107.00 L485.07,2112.65" fill="none" stroke="#000" stroke-width="1.7" stroke-linecap="round" stroke-linejoin="round"/>
<text font-size="27.50" fill="#1a1a1a" transform="translate(473.55,2140.23) scale(0.9850,1.0000)">20</text>
<path d="M555.93,2107.00 L555.93,2112.65" fill="none" stroke="#000" stroke-width="1.7" stroke-linecap="round" stroke-linejoin="round"/>
<text font-size="27.50" fill="#1a1a1a" transform="translate(544.79,2140.23) scale(0.9850,1.0000)">40</text>
<text font-size="27.50" fill="#1a1a1a" transform="translate(615.28,2140.23) scale(0.9850,1.0000)">60</text>
<text font-size="29.36" fill="#1a1a1a" transform="translate(454.85,2171.60) scale(0.9863,1.0000)">Time (min)</text>
<path d="M689.25,1929.40 L692.70,1929.40 L692.70,2107.00 L905.30,2107.00 L905.30,2112.65" fill="none" stroke="#000" stroke-width="1.7" stroke-linecap="round" stroke-linejoin="round"/>
<path d="M689.25,2047.80 L692.70,2047.80" fill="none" stroke="#000" stroke-width="1.7" stroke-linecap="round" stroke-linejoin="round"/>
<path d="M689.25,1988.60 L692.70,1988.60" fill="none" stroke="#000" stroke-width="1.7" stroke-linecap="round" stroke-linejoin="round"/>
<path d="M689.25,2107.00 L692.70,2107.00" fill="none" stroke="#000" stroke-width="1.7" stroke-linecap="round" stroke-linejoin="round"/>
<path d="M692.70,2107.00 L692.70,2112.65" fill="none" stroke="#000" stroke-width="1.7" stroke-linecap="round" stroke-linejoin="round"/>
<text font-size="27.50" fill="#1a1a1a" transform="translate(690.07,2140.23) scale(0.9850,1.0000)">0</text>
<path d="M763.57,2107.00 L763.57,2112.65" fill="none" stroke="#000" stroke-width="1.7" stroke-linecap="round" stroke-linejoin="round"/>
<text font-size="27.50" fill="#1a1a1a" transform="translate(753.25,2140.23) scale(0.9850,1.0000)">20</text>
<path d="M834.43,2107.00 L834.43,2112.65" fill="none" stroke="#000" stroke-width="1.7" stroke-linecap="round" stroke-linejoin="round"/>
<text font-size="27.50" fill="#1a1a1a" transform="translate(824.49,2140.23) scale(0.9850,1.0000)">40</text>
<text font-size="27.50" fill="#1a1a1a" transform="translate(894.98,2140.23) scale(0.9850,1.0000)">60</text>
<text font-size="29.36" fill="#1a1a1a" transform="translate(729.35,2171.60) scale(0.9863,1.0000)">Time (min)</text>
<path d="M119.60,1065.00 L120.49,1065.00 L121.38,1065.00 L122.26,1065.00 L123.15,1065.00 L124.04,1065.00 L124.93,1065.00 L125.82,1065.00 L126.71,1065.00 L127.59,1065.00 L128.48,1065.00 L129.37,1065.00 L130.26,1065.00 L131.15,1065.00 L132.04,1065.00 L132.92,1065.00 L133.81,1065.00 L134.70,1065.00 L135.59,1064.99 L136.48,1064.98 L137.37,1064.96 L138.25,1064.94 L139.14,1064.91 L140.03,1064.88 L140.92,1064.85 L141.81,1064.81 L142.70,1064.77 L143.58,1064.73 L144.47,1064.69 L145.36,1064.64 L146.25,1064.59 L147.14,1064.54 L148.03,1064.46 L148.91,1064.36 L149.80,1064.23 L150.69,1064.09 L151.58,1063.92 L152.47,1063.74 L153.35,1063.54 L154.24,1063.33 L155.13,1063.12 L156.02,1062.89 L156.91,1062.66 L157.80,1062.43 L158.68,1062.20 L159.57,1061.97 L160.46,1061.73 L161.35,1061.47 L162.24,1061.20 L163.13,1060.91 L164.01,1060.61 L164.90,1060.29 L165.79,1059.97 L166.68,1059.64 L167.57,1059.30 L168.46,1058.96 L169.34,1058.61 L170.23,1058.26 L171.12,1057.90 L172.01,1057.55 L172.90,1057.20 L173.79,1056.84 L174.67,1056.49 L175.56,1056.13 L176.45,1055.77 L177.34,1055.40 L178.23,1055.02 L179.12,1054.64 L180.00,1054.25 L180.89,1053.86 L181.78,1053.47 L182.67,1053.07 L183.56,1052.67 L184.44,1052.27 L185.33,1051.87 L186.22,1051.47 L187.11,1051.07 L188.00,1050.67 L188.89,1050.27 L189.77,1049.87 L190.66,1049.47 L191.55,1049.08 L192.44,1048.69 L193.33,1048.29 L194.22,1047.89 L195.10,1047.49 L195.99,1047.08 L196.88,1046.68 L197.77,1046.27 L198.66,1045.86 L199.55,1045.45 L200.43,1045.05 L201.32,1044.64 L202.21,1044.24 L203.10,1043.85 L203.99,1043.45 L204.88,1043.07 L205.76,1042.69 L206.65,1042.32 L207.54,1041.95 L208.43,1041.60 L209.32,1041.25 L210.21,1040.90 L211.09,1040.56 L211.98,1040.21 L212.87,1039.86 L213.76,1039.51 L214.65,1039.16 L215.53,1038.82 L216.42,1038.49 L217.31,1038.15 L218.20,1037.83 L219.09,1037.51 L219.98,1037.21 L220.86,1036.91 L221.75,1036.63 L222.64,1036.36 L223.53,1036.10 L224.42,1035.86 L225.31,1035.63 L226.19,1035.42 L227.08,1035.23 L227.97,1035.03 L228.86,1034.84 L229.75,1034.66 L230.64,1034.47 L231.52,1034.29 L232.41,1034.12 L233.30,1033.96 L234.19,1033.80 L235.08,1033.65 L235.97,1033.51 L236.85,1033.39 L237.74,1033.27 L238.63,1033.17 L239.52,1033.09 L240.41,1033.02 L241.29,1032.96 L242.18,1032.92 L243.07,1032.87 L243.96,1032.83 L244.85,1032.79 L245.74,1032.76 L246.62,1032.72 L247.51,1032.69 L248.40,1032.66 L249.29,1032.63 L250.18,1032.60 L251.07,1032.58 L251.95,1032.56 L252.84,1032.54 L253.73,1032.53 L254.62,1032.52 L255.51,1032.52 L256.40,1032.52 L257.28,1032.53 L258.17,1032.55 L259.06,1032.58 L259.95,1032.62 L260.84,1032.68 L261.73,1032.74 L262.61,1032.81 L263.50,1032.88 L264.39,1032.97 L265.28,1033.05 L266.17,1033.14 L267.06,1033.24 L267.94,1033.33 L268.83,1033.43 L269.72,1033.53 L270.61,1033.63 L271.50,1033.72 L272.38,1033.83 L273.27,1033.94 L274.16,1034.07 L275.05,1034.20 L275.94,1034.34 L276.83,1034.48 L277.71,1034.63 L278.60,1034.79 L279.49,1034.96 L280.38,1035.13 L281.27,1035.30 L282.16,1035.48 L283.04,1035.66 L283.93,1035.84 L284.82,1036.03 L285.71,1036.22 L286.60,1036.41 L287.49,1036.61 L288.37,1036.80 L289.26,1036.99 L290.15,1037.19 L291.04,1037.40 L291.93,1037.61 L292.82,1037.82 L293.70,1038.05 L294.59,1038.27 L295.48,1038.50 L296.37,1038.74 L297.26,1038.98 L298.15,1039.22 L299.03,1039.47 L299.92,1039.72 L300.81,1039.97 L301.70,1040.23 L302.59,1040.49 L303.47,1040.76 L304.36,1041.02 L305.25,1041.29 L306.14,1041.56 L307.03,1041.84 L307.92,1042.11 L308.80,1042.39 L309.69,1042.66 L310.58,1042.95 L311.47,1043.23 L312.36,1043.52 L313.25,1043.82 L314.13,1044.11 L315.02,1044.41 L315.91,1044.72 L316.80,1045.03 L317.69,1045.34 L318.58,1045.65 L319.46,1045.97 L320.35,1046.29 L321.24,1046.62 L322.13,1046.94 L323.02,1047.27 L323.91,1047.61 L324.79,1047.95 L325.68,1048.29 L326.57,1048.63 L327.46,1048.98 L328.35,1049.33 L329.24,1049.68 L330.12,1050.04 L331.01,1050.40 L331.90,1050.76" fill="none" stroke="#000" stroke-width="2.8" stroke-linejoin="round" stroke-linecap="round"/>
<path d="M274.93,1013.11 L274.93,1032.52 M273.33,1013.11 L276.53,1013.11 M273.33,1032.52 L276.53,1032.52" fill="none" stroke="#1a1a1a" stroke-width="1.5" />
<ellipse cx="274.93" cy="1023.79" rx="3.3" ry="4.15" fill="#e0282a"/>
<path d="M331.55,1056.72 L331.55,1069.09 M329.95,1056.72 L333.15,1056.72 M329.95,1069.09 L333.15,1069.09" fill="none" stroke="#1a1a1a" stroke-width="1.5" />
<ellipse cx="331.55" cy="1062.86" rx="3.3" ry="4.15" fill="#e0282a"/>
<path d="M412.20,1064.11 L413.09,1064.11 L413.98,1064.12 L414.87,1064.12 L415.76,1064.12 L416.65,1064.13 L417.53,1064.13 L418.42,1064.14 L419.31,1064.14 L420.20,1064.14 L421.09,1064.15 L421.98,1064.15 L422.87,1064.15 L423.76,1064.16 L424.65,1064.16 L425.54,1064.17 L426.43,1064.17 L427.32,1064.18 L428.20,1064.18 L429.09,1064.18 L429.98,1064.19 L430.87,1064.19 L431.76,1064.20 L432.65,1064.20 L433.54,1064.21 L434.43,1064.21 L435.32,1064.22 L436.21,1064.22 L437.10,1064.23 L437.98,1064.23 L438.87,1064.24 L439.76,1064.24 L440.65,1064.25 L441.54,1064.25 L442.43,1064.26 L443.32,1064.26 L444.21,1064.27 L445.10,1064.27 L445.99,1064.28 L446.88,1064.28 L447.76,1064.29 L448.65,1064.29 L449.54,1064.30 L450.43,1064.30 L451.32,1064.31 L452.21,1064.32 L453.10,1064.32 L453.99,1064.33 L454.88,1064.33 L455.77,1064.34 L456.66,1064.34 L457.55,1064.35 L458.43,1064.35 L459.32,1064.36 L460.21,1064.36 L461.10,1064.37 L461.99,1064.38 L462.88,1064.38 L463.77,1064.39 L464.66,1064.39 L465.55,1064.40 L466.44,1064.41 L467.33,1064.41 L468.21,1064.42 L469.10,1064.42 L469.99,1064.43 L470.88,1064.44 L471.77,1064.45 L472.66,1064.45 L473.55,1064.46 L474.44,1064.47 L475.33,1064.48 L476.22,1064.48 L477.11,1064.49 L477.99,1064.50 L478.88,1064.51 L479.77,1064.52 L480.66,1064.53 L481.55,1064.54 L482.44,1064.55 L483.33,1064.56 L484.22,1064.57 L485.11,1064.58 L486.00,1064.59 L486.89,1064.61 L487.78,1064.62 L488.66,1064.63 L489.55,1064.65 L490.44,1064.67 L491.33,1064.68 L492.22,1064.70 L493.11,1064.72 L494.00,1064.74 L494.89,1064.76 L495.78,1064.78 L496.67,1064.81 L497.56,1064.83 L498.44,1064.86 L499.33,1064.90 L500.22,1064.95 L501.11,1065.00 L502.00,1065.05 L502.89,1065.10 L503.78,1065.16 L504.67,1065.22 L505.56,1065.27 L506.45,1065.32 L507.34,1065.37 L508.23,1065.42 L509.11,1065.46 L510.00,1065.50 L510.89,1065.52 L511.78,1065.54 L512.67,1065.56 L513.56,1065.58 L514.45,1065.59 L515.34,1065.61 L516.23,1065.62 L517.12,1065.64 L518.01,1065.65 L518.89,1065.66 L519.78,1065.68 L520.67,1065.69 L521.56,1065.69 L522.45,1065.70 L523.34,1065.71 L524.23,1065.71 L525.12,1065.71 L526.01,1065.71 L526.90,1065.71 L527.79,1065.71 L528.67,1065.71 L529.56,1065.71 L530.45,1065.71 L531.34,1065.71 L532.23,1065.71 L533.12,1065.71 L534.01,1065.71 L534.90,1065.71 L535.79,1065.71 L536.68,1065.71 L537.57,1065.71 L538.46,1065.71 L539.34,1065.71 L540.23,1065.71 L541.12,1065.71 L542.01,1065.71 L542.90,1065.71 L543.79,1065.71 L544.68,1065.71 L545.57,1065.71 L546.46,1065.71 L547.35,1065.71 L548.24,1065.71 L549.12,1065.71 L550.01,1065.71 L550.90,1065.71 L551.79,1065.71 L552.68,1065.71 L553.57,1065.71 L554.46,1065.71 L555.35,1065.71 L556.24,1065.71 L557.13,1065.71 L558.02,1065.71 L558.91,1065.71 L559.79,1065.71 L560.68,1065.71 L561.57,1065.71 L562.46,1065.71 L563.35,1065.71 L564.24,1065.71 L565.13,1065.71 L566.02,1065.71 L566.91,1065.71 L567.80,1065.71 L568.69,1065.71 L569.57,1065.71 L570.46,1065.71 L571.35,1065.71 L572.24,1065.71 L573.13,1065.71 L574.02,1065.71 L574.91,1065.71 L575.80,1065.71 L576.69,1065.71 L577.58,1065.71 L578.47,1065.71 L579.35,1065.71 L580.24,1065.71 L581.13,1065.71 L582.02,1065.71 L582.91,1065.71 L583.80,1065.71 L584.69,1065.71 L585.58,1065.71 L586.47,1065.71 L587.36,1065.71 L588.25,1065.71 L589.14,1065.71 L590.02,1065.71 L590.91,1065.71 L591.80,1065.71 L592.69,1065.71 L593.58,1065.71 L594.47,1065.71 L595.36,1065.71 L596.25,1065.71 L597.14,1065.71 L598.03,1065.71 L598.92,1065.71 L599.80,1065.71 L600.69,1065.71 L601.58,1065.71 L602.47,1065.71 L603.36,1065.71 L604.25,1065.71 L605.14,1065.71 L606.03,1065.71 L606.92,1065.71 L607.81,1065.71 L608.70,1065.71 L609.58,1065.71 L610.47,1065.71 L611.36,1065.71 L612.25,1065.71 L613.14,1065.71 L614.03,1065.71 L614.92,1065.71 L615.81,1065.71 L616.70,1065.71 L617.59,1065.71 L618.48,1065.71 L619.37,1065.71 L620.25,1065.71 L621.14,1065.71 L622.03,1065.71 L622.92,1065.71 L623.81,1065.71 L624.70,1065.71" fill="none" stroke="#1565b1" stroke-width="2.4" stroke-linejoin="round" stroke-linecap="round"/>
<path d="M412.20,1065.00 L413.09,1065.00 L413.98,1065.00 L414.87,1065.00 L415.76,1065.00 L416.65,1065.00 L417.53,1065.00 L418.42,1065.00 L419.31,1065.00 L420.20,1065.00 L421.09,1065.00 L421.98,1065.00 L422.87,1065.00 L423.76,1065.00 L424.65,1065.00 L425.54,1065.00 L426.43,1065.00 L427.32,1065.00 L428.20,1064.99 L429.09,1064.98 L429.98,1064.96 L430.87,1064.94 L431.76,1064.91 L432.65,1064.88 L433.54,1064.85 L434.43,1064.81 L435.32,1064.77 L436.21,1064.73 L437.10,1064.69 L437.98,1064.64 L438.87,1064.59 L439.76,1064.54 L440.65,1064.46 L441.54,1064.36 L442.43,1064.23 L443.32,1064.09 L444.21,1063.92 L445.10,1063.74 L445.99,1063.54 L446.88,1063.33 L447.76,1063.12 L448.65,1062.89 L449.54,1062.66 L450.43,1062.43 L451.32,1062.20 L452.21,1061.97 L453.10,1061.73 L453.99,1061.47 L454.88,1061.20 L455.77,1060.91 L456.66,1060.61 L457.55,1060.29 L458.43,1059.97 L459.32,1059.64 L460.21,1059.30 L461.10,1058.96 L461.99,1058.61 L462.88,1058.26 L463.77,1057.90 L464.66,1057.55 L465.55,1057.20 L466.44,1056.84 L467.33,1056.49 L468.21,1056.13 L469.10,1055.77 L469.99,1055.40 L470.88,1055.02 L471.77,1054.64 L472.66,1054.25 L473.55,1053.86 L474.44,1053.47 L475.33,1053.07 L476.22,1052.67 L477.11,1052.27 L477.99,1051.87 L478.88,1051.47 L479.77,1051.07 L480.66,1050.67 L481.55,1050.27 L482.44,1049.87 L483.33,1049.47 L484.22,1049.08 L485.11,1048.69 L486.00,1048.29 L486.89,1047.89 L487.78,1047.49 L488.66,1047.08 L489.55,1046.68 L490.44,1046.27 L491.33,1045.86 L492.22,1045.45 L493.11,1045.05 L494.00,1044.64 L494.89,1044.24 L495.78,1043.85 L496.67,1043.45 L497.56,1043.07 L498.44,1042.69 L499.33,1042.32 L500.22,1041.95 L501.11,1041.60 L502.00,1041.25 L502.89,1040.90 L503.78,1040.56 L504.67,1040.21 L505.56,1039.86 L506.45,1039.51 L507.34,1039.16 L508.23,1038.82 L509.11,1038.49 L510.00,1038.15 L510.89,1037.83 L511.78,1037.51 L512.67,1037.21 L513.56,1036.91 L514.45,1036.63 L515.34,1036.36 L516.23,1036.10 L517.12,1035.86 L518.01,1035.63 L518.89,1035.42 L519.78,1035.23 L520.67,1035.03 L521.56,1034.84 L522.45,1034.66 L523.34,1034.47 L524.23,1034.29 L525.12,1034.12 L526.01,1033.96 L526.90,1033.80 L527.79,1033.65 L528.67,1033.51 L529.56,1033.39 L530.45,1033.27 L531.34,1033.17 L532.23,1033.09 L533.12,1033.02 L534.01,1032.96 L534.90,1032.92 L535.79,1032.87 L536.68,1032.83 L537.57,1032.79 L538.46,1032.76 L539.34,1032.72 L540.23,1032.69 L541.12,1032.66 L542.01,1032.63 L542.90,1032.60 L543.79,1032.58 L544.68,1032.56 L545.57,1032.54 L546.46,1032.53 L547.35,1032.52 L548.24,1032.52 L549.12,1032.52 L550.01,1032.53 L550.90,1032.55 L551.79,1032.58 L552.68,1032.62 L553.57,1032.68 L554.46,1032.74 L555.35,1032.81 L556.24,1032.88 L557.13,1032.97 L558.02,1033.05 L558.91,1033.14 L559.79,1033.24 L560.68,1033.33 L561.57,1033.43 L562.46,1033.53 L563.35,1033.63 L564.24,1033.72 L565.13,1033.83 L566.02,1033.94 L566.91,1034.07 L567.80,1034.20 L568.69,1034.34 L569.57,1034.48 L570.46,1034.63 L571.35,1034.79 L572.24,1034.96 L573.13,1035.13 L574.02,1035.30 L574.91,1035.48 L575.80,1035.66 L576.69,1035.84 L577.58,1036.03 L578.47,1036.22 L579.35,1036.41 L580.24,1036.61 L581.13,1036.80 L582.02,1036.99 L582.91,1037.19 L583.80,1037.40 L584.69,1037.61 L585.58,1037.82 L586.47,1038.05 L587.36,1038.27 L588.25,1038.50 L589.14,1038.74 L590.02,1038.98 L590.91,1039.22 L591.80,1039.47 L592.69,1039.72 L593.58,1039.97 L594.47,1040.23 L595.36,1040.49 L596.25,1040.76 L597.14,1041.02 L598.03,1041.29 L598.92,1041.56 L599.80,1041.84 L600.69,1042.11 L601.58,1042.39 L602.47,1042.66 L603.36,1042.95 L604.25,1043.23 L605.14,1043.52 L606.03,1043.82 L606.92,1044.11 L607.81,1044.41 L608.70,1044.72 L609.58,1045.03 L610.47,1045.34 L611.36,1045.65 L612.25,1045.97 L613.14,1046.29 L614.03,1046.62 L614.92,1046.94 L615.81,1047.27 L616.70,1047.61 L617.59,1047.95 L618.48,1048.29 L619.37,1048.63 L620.25,1048.98 L621.14,1049.33 L622.03,1049.68 L622.92,1050.04 L623.81,1050.40 L624.70,1050.76" fill="none" stroke="#000" stroke-width="2.5" stroke-dasharray="8.6 10.4" stroke-linecap="round" stroke-dashoffset="-1.5"/>
<path d="M552.45,1037.60 L552.45,1057.40" fill="none" stroke="#1a1a1a" stroke-width="1.9" stroke-linecap="round"/>
<polygon points="548.15,1056.40 556.75,1056.40 552.45,1062.60" fill="#1a1a1a" stroke="#1a1a1a" stroke-width="0.9" stroke-linejoin="round"/>
<path d="M689.10,1065.15 L689.99,1065.15 L690.88,1065.15 L691.77,1065.15 L692.66,1065.15 L693.55,1065.15 L694.44,1065.15 L695.33,1065.15 L696.22,1065.15 L697.11,1065.15 L698.00,1065.15 L698.89,1065.15 L699.78,1065.15 L700.67,1065.15 L701.57,1065.15 L702.46,1065.15 L703.35,1065.15 L704.24,1065.15 L705.13,1065.14 L706.02,1065.13 L706.91,1065.11 L707.80,1065.09 L708.69,1065.06 L709.58,1065.03 L710.47,1065.00 L711.36,1064.96 L712.25,1064.92 L713.14,1064.88 L714.03,1064.84 L714.92,1064.79 L715.81,1064.74 L716.70,1064.69 L717.59,1064.61 L718.48,1064.51 L719.37,1064.39 L720.26,1064.24 L721.15,1064.07 L722.04,1063.89 L722.93,1063.70 L723.82,1063.49 L724.72,1063.27 L725.61,1063.05 L726.50,1062.82 L727.39,1062.59 L728.28,1062.36 L729.17,1062.13 L730.06,1061.89 L730.95,1061.63 L731.84,1061.35 L732.73,1061.07 L733.62,1060.76 L734.51,1060.45 L735.40,1060.13 L736.29,1059.80 L737.18,1059.46 L738.07,1059.12 L738.96,1058.77 L739.85,1058.42 L740.74,1058.07 L741.63,1057.71 L742.52,1057.36 L743.41,1057.01 L744.30,1056.66 L745.19,1056.30 L746.08,1055.94 L746.97,1055.57 L747.86,1055.19 L748.76,1054.81 L749.65,1054.43 L750.54,1054.04 L751.43,1053.65 L752.32,1053.25 L753.21,1052.86 L754.10,1052.46 L754.99,1052.06 L755.88,1051.66 L756.77,1051.26 L757.66,1050.85 L758.55,1050.45 L759.44,1050.05 L760.33,1049.66 L761.22,1049.26 L762.11,1048.86 L763.00,1048.47 L763.89,1048.07 L764.78,1047.67 L765.67,1047.27 L766.56,1046.87 L767.45,1046.47 L768.34,1046.06 L769.23,1045.66 L770.12,1045.26 L771.01,1044.85 L771.91,1044.45 L772.80,1044.05 L773.69,1043.64 L774.58,1043.24 L775.47,1042.84 L776.36,1042.44 L777.25,1042.04 L778.14,1041.65 L779.03,1041.25 L779.92,1040.86 L780.81,1040.46 L781.70,1040.07 L782.59,1039.68 L783.48,1039.29 L784.37,1038.90 L785.26,1038.51 L786.15,1038.12 L787.04,1037.73 L787.93,1037.34 L788.82,1036.95 L789.71,1036.56 L790.60,1036.18 L791.49,1035.79 L792.38,1035.39 L793.27,1035.00 L794.16,1034.59 L795.05,1034.18 L795.95,1033.77 L796.84,1033.35 L797.73,1032.94 L798.62,1032.52 L799.51,1032.10 L800.40,1031.69 L801.29,1031.28 L802.18,1030.87 L803.07,1030.47 L803.96,1030.07 L804.85,1029.69 L805.74,1029.31 L806.63,1028.94 L807.52,1028.58 L808.41,1028.23 L809.30,1027.90 L810.19,1027.58 L811.08,1027.28 L811.97,1026.98 L812.86,1026.69 L813.75,1026.40 L814.64,1026.11 L815.53,1025.83 L816.42,1025.55 L817.31,1025.28 L818.20,1025.01 L819.09,1024.75 L819.99,1024.49 L820.88,1024.23 L821.77,1023.98 L822.66,1023.73 L823.55,1023.49 L824.44,1023.26 L825.33,1023.02 L826.22,1022.80 L827.11,1022.57 L828.00,1022.35 L828.89,1022.14 L829.78,1021.93 L830.67,1021.73 L831.56,1021.53 L832.45,1021.33 L833.34,1021.14 L834.23,1020.96 L835.12,1020.78 L836.01,1020.60 L836.90,1020.43 L837.79,1020.26 L838.68,1020.09 L839.57,1019.93 L840.46,1019.76 L841.35,1019.60 L842.24,1019.45 L843.14,1019.29 L844.03,1019.14 L844.92,1018.99 L845.81,1018.85 L846.70,1018.71 L847.59,1018.57 L848.48,1018.43 L849.37,1018.29 L850.26,1018.16 L851.15,1018.03 L852.04,1017.90 L852.93,1017.78 L853.82,1017.66 L854.71,1017.54 L855.60,1017.42 L856.49,1017.30 L857.38,1017.19 L858.27,1017.08 L859.16,1016.97 L860.05,1016.87 L860.94,1016.76 L861.83,1016.66 L862.72,1016.56 L863.61,1016.46 L864.50,1016.36 L865.39,1016.27 L866.28,1016.17 L867.18,1016.08 L868.07,1015.99 L868.96,1015.90 L869.85,1015.82 L870.74,1015.73 L871.63,1015.65 L872.52,1015.57 L873.41,1015.49 L874.30,1015.41 L875.19,1015.33 L876.08,1015.26 L876.97,1015.19 L877.86,1015.12 L878.75,1015.05 L879.64,1014.98 L880.53,1014.91 L881.42,1014.84 L882.31,1014.78 L883.20,1014.71 L884.09,1014.65 L884.98,1014.59 L885.87,1014.53 L886.76,1014.46 L887.65,1014.40 L888.54,1014.35 L889.43,1014.29 L890.33,1014.23 L891.22,1014.18 L892.11,1014.12 L893.00,1014.07 L893.89,1014.02 L894.78,1013.97 L895.67,1013.92 L896.56,1013.87 L897.45,1013.82 L898.34,1013.78 L899.23,1013.74 L900.12,1013.69 L901.01,1013.66 L901.90,1013.62" fill="none" stroke="#11a04b" stroke-width="2.4" stroke-linejoin="round" stroke-linecap="round"/>
<path d="M689.10,1065.15 L689.99,1065.15 L690.88,1065.15 L691.77,1065.15 L692.66,1065.15 L693.55,1065.15 L694.44,1065.15 L695.33,1065.15 L696.22,1065.15 L697.11,1065.15 L698.00,1065.15 L698.89,1065.15 L699.78,1065.15 L700.67,1065.15 L701.57,1065.15 L702.46,1065.15 L703.35,1065.15 L704.24,1065.15 L705.13,1065.14 L706.02,1065.13 L706.91,1065.11 L707.80,1065.09 L708.69,1065.06 L709.58,1065.03 L710.47,1065.00 L711.36,1064.96 L712.25,1064.92 L713.14,1064.88 L714.03,1064.84 L714.92,1064.79 L715.81,1064.74 L716.70,1064.69 L717.59,1064.61 L718.48,1064.51 L719.37,1064.39 L720.26,1064.24 L721.15,1064.07 L722.04,1063.89 L722.93,1063.70 L723.82,1063.49 L724.72,1063.27 L725.61,1063.05 L726.50,1062.82 L727.39,1062.59 L728.28,1062.36 L729.17,1062.13 L730.06,1061.89 L730.95,1061.63 L731.84,1061.35 L732.73,1061.07 L733.62,1060.76 L734.51,1060.45 L735.40,1060.13 L736.29,1059.80 L737.18,1059.46 L738.07,1059.12 L738.96,1058.77 L739.85,1058.42 L740.74,1058.07 L741.63,1057.71 L742.52,1057.36 L743.41,1057.01 L744.30,1056.66 L745.19,1056.30 L746.08,1055.93 L746.97,1055.56 L747.86,1055.19 L748.76,1054.81 L749.65,1054.42 L750.54,1054.03 L751.43,1053.64 L752.32,1053.24 L753.21,1052.85 L754.10,1052.45 L754.99,1052.05 L755.88,1051.64 L756.77,1051.24 L757.66,1050.84 L758.55,1050.44 L759.44,1050.05 L760.33,1049.65 L761.22,1049.26 L762.11,1048.87 L763.00,1048.47 L763.89,1048.07 L764.78,1047.67 L765.67,1047.26 L766.56,1046.86 L767.45,1046.45 L768.34,1046.04 L769.23,1045.63 L770.12,1045.23 L771.01,1044.83 L771.91,1044.43 L772.80,1044.03 L773.69,1043.64 L774.58,1043.26 L775.47,1042.88 L776.36,1042.50 L777.25,1042.14 L778.14,1041.79 L779.03,1041.44 L779.92,1041.09 L780.81,1040.75 L781.70,1040.40 L782.59,1040.05 L783.48,1039.70 L784.37,1039.36 L785.26,1039.02 L786.15,1038.68 L787.04,1038.35 L787.93,1038.03 L788.82,1037.71 L789.71,1037.40 L790.60,1037.11 L791.49,1036.82 L792.38,1036.55 L793.27,1036.30 L794.16,1036.05 L795.05,1035.83 L795.95,1035.62 L796.84,1035.43 L797.73,1035.23 L798.62,1035.04 L799.51,1034.86 L800.40,1034.67 L801.29,1034.50 L802.18,1034.32 L803.07,1034.16 L803.96,1034.00 L804.85,1033.85 L805.74,1033.72 L806.63,1033.59 L807.52,1033.48 L808.41,1033.38 L809.30,1033.29 L810.19,1033.22 L811.08,1033.17 L811.97,1033.12 L812.86,1033.08 L813.75,1033.04 L814.64,1033.00 L815.53,1032.96 L816.42,1032.92 L817.31,1032.89 L818.20,1032.86 L819.09,1032.83 L819.99,1032.81 L820.88,1032.78 L821.77,1032.76 L822.66,1032.75 L823.55,1032.73 L824.44,1032.73 L825.33,1032.72 L826.22,1032.72 L827.11,1032.73 L828.00,1032.75 L828.89,1032.78 L829.78,1032.83 L830.67,1032.88 L831.56,1032.94 L832.45,1033.01 L833.34,1033.09 L834.23,1033.17 L835.12,1033.26 L836.01,1033.35 L836.90,1033.44 L837.79,1033.54 L838.68,1033.63 L839.57,1033.73 L840.46,1033.83 L841.35,1033.93 L842.24,1034.03 L843.14,1034.14 L844.03,1034.27 L844.92,1034.40 L845.81,1034.54 L846.70,1034.68 L847.59,1034.84 L848.48,1034.99 L849.37,1035.16 L850.26,1035.33 L851.15,1035.50 L852.04,1035.68 L852.93,1035.86 L853.82,1036.04 L854.71,1036.23 L855.60,1036.42 L856.49,1036.61 L857.38,1036.80 L858.27,1037.00 L859.16,1037.19 L860.05,1037.39 L860.94,1037.59 L861.83,1037.80 L862.72,1038.02 L863.61,1038.24 L864.50,1038.47 L865.39,1038.70 L866.28,1038.93 L867.18,1039.17 L868.07,1039.41 L868.96,1039.66 L869.85,1039.91 L870.74,1040.17 L871.63,1040.42 L872.52,1040.68 L873.41,1040.95 L874.30,1041.21 L875.19,1041.48 L876.08,1041.75 L876.97,1042.02 L877.86,1042.30 L878.75,1042.57 L879.64,1042.85 L880.53,1043.13 L881.42,1043.42 L882.31,1043.71 L883.20,1044.00 L884.09,1044.30 L884.98,1044.60 L885.87,1044.90 L886.76,1045.21 L887.65,1045.52 L888.54,1045.83 L889.43,1046.15 L890.33,1046.47 L891.22,1046.80 L892.11,1047.12 L893.00,1047.45 L893.89,1047.79 L894.78,1048.12 L895.67,1048.47 L896.56,1048.81 L897.45,1049.16 L898.34,1049.50 L899.23,1049.86 L900.12,1050.21 L901.01,1050.57 L901.90,1050.93" fill="none" stroke="#000" stroke-width="2.5" stroke-dasharray="8.6 10.4" stroke-linecap="round" stroke-dashoffset="-1.5"/>
<path d="M888.80,1041.10 L887.90,1028.90" fill="none" stroke="#e0282a" stroke-width="2.0" stroke-linecap="round"/>
<polygon points="883.80,1029.90 892.00,1029.90 887.90,1023.70" fill="#e0282a" stroke="#e0282a" stroke-width="0.9" stroke-linejoin="round"/>
<path d="M122.00,1365.15 L122.89,1363.04 L123.77,1360.99 L124.66,1359.02 L125.55,1357.13 L126.44,1355.34 L127.32,1353.64 L128.21,1352.02 L129.10,1350.40 L129.98,1348.81 L130.87,1347.29 L131.76,1345.89 L132.64,1344.64 L133.53,1343.60 L134.42,1342.76 L135.31,1341.96 L136.19,1341.19 L137.08,1340.51 L137.97,1339.94 L138.85,1339.53 L139.74,1339.34 L140.63,1339.36 L141.51,1339.51 L142.40,1339.78 L143.29,1340.14 L144.18,1340.57 L145.06,1341.05 L145.95,1341.55 L146.84,1342.10 L147.72,1342.87 L148.61,1343.85 L149.50,1344.97 L150.38,1346.17 L151.27,1347.39 L152.16,1348.58 L153.05,1349.66 L153.93,1350.60 L154.82,1351.49 L155.71,1352.39 L156.59,1353.28 L157.48,1354.14 L158.37,1354.92 L159.26,1355.61 L160.14,1356.18 L161.03,1356.59 L161.92,1356.88 L162.80,1357.15 L163.69,1357.41 L164.58,1357.63 L165.46,1357.83 L166.35,1357.98 L167.24,1358.09 L168.13,1358.15 L169.01,1358.16 L169.90,1358.09 L170.79,1357.97 L171.67,1357.79 L172.56,1357.58 L173.45,1357.33 L174.33,1357.06 L175.22,1356.79 L176.11,1356.52 L177.00,1356.25 L177.88,1355.99 L178.77,1355.72 L179.66,1355.43 L180.54,1355.13 L181.43,1354.82 L182.32,1354.49 L183.21,1354.15 L184.09,1353.81 L184.98,1353.45 L185.87,1353.08 L186.75,1352.71 L187.64,1352.33 L188.53,1351.94 L189.41,1351.55 L190.30,1351.15 L191.19,1350.75 L192.08,1350.35 L192.96,1349.94 L193.85,1349.54 L194.74,1349.13 L195.62,1348.73 L196.51,1348.33 L197.40,1347.93 L198.28,1347.52 L199.17,1347.10 L200.06,1346.67 L200.95,1346.23 L201.83,1345.77 L202.72,1345.31 L203.61,1344.85 L204.49,1344.38 L205.38,1343.91 L206.27,1343.44 L207.15,1342.96 L208.04,1342.49 L208.93,1342.03 L209.82,1341.56 L210.70,1341.11 L211.59,1340.66 L212.48,1340.22 L213.36,1339.79 L214.25,1339.38 L215.14,1338.98 L216.03,1338.59 L216.91,1338.23 L217.80,1337.87 L218.69,1337.51 L219.57,1337.16 L220.46,1336.80 L221.35,1336.45 L222.23,1336.10 L223.12,1335.75 L224.01,1335.40 L224.90,1335.06 L225.78,1334.72 L226.67,1334.39 L227.56,1334.07 L228.44,1333.75 L229.33,1333.44 L230.22,1333.14 L231.10,1332.85 L231.99,1332.57 L232.88,1332.30 L233.77,1332.04 L234.65,1331.80 L235.54,1331.57 L236.43,1331.35 L237.31,1331.14 L238.20,1330.96 L239.09,1330.78 L239.97,1330.62 L240.86,1330.46 L241.75,1330.30 L242.64,1330.14 L243.52,1329.98 L244.41,1329.83 L245.30,1329.67 L246.18,1329.53 L247.07,1329.38 L247.96,1329.24 L248.85,1329.11 L249.73,1328.98 L250.62,1328.87 L251.51,1328.76 L252.39,1328.66 L253.28,1328.56 L254.17,1328.48 L255.05,1328.42 L255.94,1328.36 L256.83,1328.31 L257.72,1328.28 L258.60,1328.27 L259.49,1328.27 L260.38,1328.27 L261.26,1328.29 L262.15,1328.31 L263.04,1328.33 L263.92,1328.36 L264.81,1328.40 L265.70,1328.44 L266.59,1328.49 L267.47,1328.54 L268.36,1328.60 L269.25,1328.66 L270.13,1328.72 L271.02,1328.79 L271.91,1328.86 L272.79,1328.93 L273.68,1329.01 L274.57,1329.09 L275.46,1329.17 L276.34,1329.26 L277.23,1329.34 L278.12,1329.43 L279.00,1329.52 L279.89,1329.62 L280.78,1329.74 L281.67,1329.88 L282.55,1330.04 L283.44,1330.22 L284.33,1330.41 L285.21,1330.61 L286.10,1330.83 L286.99,1331.06 L287.87,1331.29 L288.76,1331.54 L289.65,1331.79 L290.54,1332.05 L291.42,1332.31 L292.31,1332.58 L293.20,1332.84 L294.08,1333.11 L294.97,1333.38 L295.86,1333.65 L296.74,1333.91 L297.63,1334.17 L298.52,1334.42 L299.41,1334.66 L300.29,1334.91 L301.18,1335.17 L302.07,1335.42 L302.95,1335.68 L303.84,1335.94 L304.73,1336.20 L305.62,1336.46 L306.50,1336.73 L307.39,1337.00 L308.28,1337.27 L309.16,1337.55 L310.05,1337.83 L310.94,1338.11 L311.82,1338.40 L312.71,1338.68 L313.60,1338.98 L314.49,1339.27 L315.37,1339.58 L316.26,1339.88 L317.15,1340.19 L318.03,1340.50 L318.92,1340.82 L319.81,1341.14 L320.69,1341.47 L321.58,1341.80 L322.47,1342.14 L323.36,1342.49 L324.24,1342.84 L325.13,1343.20 L326.02,1343.56 L326.90,1343.93 L327.79,1344.30 L328.68,1344.68 L329.56,1345.06 L330.45,1345.44 L331.34,1345.83 L332.23,1346.22 L333.11,1346.62 L334.00,1347.02" fill="none" stroke="#000" stroke-width="2.8" stroke-linejoin="round" stroke-linecap="round"/>
<path d="M139.67,1327.03 L139.67,1344.81 M138.07,1327.03 L141.27,1327.03 M138.07,1344.81 L141.27,1344.81" fill="none" stroke="#1a1a1a" stroke-width="1.5" />
<ellipse cx="139.67" cy="1336.14" rx="3.3" ry="4.15" fill="#e0282a"/>
<path d="M176.77,1343.13 L176.77,1359.67 M175.17,1343.13 L178.37,1343.13 M175.17,1359.67 L178.37,1359.67" fill="none" stroke="#1a1a1a" stroke-width="1.5" />
<ellipse cx="176.77" cy="1351.71" rx="3.3" ry="4.15" fill="#e0282a"/>
<path d="M279.23,1320.84 L279.23,1345.51 M277.63,1320.84 L280.83,1320.84 M277.63,1345.51 L280.83,1345.51" fill="none" stroke="#1a1a1a" stroke-width="1.5" />
<ellipse cx="279.23" cy="1332.69" rx="3.3" ry="4.15" fill="#e0282a"/>
<path d="M335.06,1360.37 L335.06,1373.99 M333.46,1360.37 L336.66,1360.37 M333.46,1373.99 L336.66,1373.99" fill="none" stroke="#1a1a1a" stroke-width="1.5" />
<ellipse cx="335.06" cy="1367.36" rx="3.3" ry="4.15" fill="#e0282a"/>
<path d="M763,0 H583 V1147 Q518,1085 412,1023 T223,930 V1104 Q374,1175 487,1276 T647,1466 H763 Z" fill="#1a1a1a" transform="translate(132.40,1319.80) scale(0.01177,-0.01131)"/>
<text font-size="23.30" fill="#1a1a1a" transform="translate(274.07,1309.90) scale(1.0000,1.0000)">2</text>
<path d="M414.40,1365.35 L415.29,1365.35 L416.17,1365.35 L417.06,1365.35 L417.94,1365.35 L418.83,1365.35 L419.71,1365.35 L420.60,1365.35 L421.49,1365.35 L422.37,1365.35 L423.26,1365.35 L424.14,1365.35 L425.03,1365.35 L425.92,1365.35 L426.80,1365.35 L427.69,1365.35 L428.57,1365.35 L429.46,1365.35 L430.34,1365.35 L431.23,1365.35 L432.12,1365.35 L433.00,1365.35 L433.89,1365.35 L434.77,1365.35 L435.66,1365.35 L436.54,1365.35 L437.43,1365.35 L438.32,1365.35 L439.20,1365.35 L440.09,1365.35 L440.97,1365.35 L441.86,1365.35 L442.74,1365.35 L443.63,1365.35 L444.52,1365.35 L445.40,1365.35 L446.29,1365.35 L447.17,1365.35 L448.06,1365.35 L448.95,1365.35 L449.83,1365.35 L450.72,1365.35 L451.60,1365.35 L452.49,1365.35 L453.37,1365.35 L454.26,1365.35 L455.15,1365.35 L456.03,1365.35 L456.92,1365.35 L457.80,1365.35 L458.69,1365.35 L459.57,1365.35 L460.46,1365.35 L461.35,1365.35 L462.23,1365.35 L463.12,1365.35 L464.00,1365.35 L464.89,1365.35 L465.77,1365.35 L466.66,1365.35 L467.55,1365.35 L468.43,1365.35 L469.32,1365.35 L470.20,1365.35 L471.09,1365.35 L471.98,1365.35 L472.86,1365.35 L473.75,1365.35 L474.63,1365.35 L475.52,1365.35 L476.40,1365.35 L477.29,1365.35 L478.18,1365.35 L479.06,1365.35 L479.95,1365.35 L480.83,1365.35 L481.72,1365.35 L482.60,1365.35 L483.49,1365.35 L484.38,1365.35 L485.26,1365.35 L486.15,1365.35 L487.03,1365.36 L487.92,1365.36 L488.81,1365.37 L489.69,1365.38 L490.58,1365.38 L491.46,1365.40 L492.35,1365.41 L493.23,1365.42 L494.12,1365.44 L495.01,1365.45 L495.89,1365.47 L496.78,1365.48 L497.66,1365.50 L498.55,1365.52 L499.43,1365.54 L500.32,1365.56 L501.21,1365.59 L502.09,1365.63 L502.98,1365.67 L503.86,1365.72 L504.75,1365.77 L505.63,1365.83 L506.52,1365.88 L507.41,1365.94 L508.29,1365.99 L509.18,1366.04 L510.06,1366.09 L510.95,1366.14 L511.84,1366.18 L512.72,1366.22 L513.61,1366.25 L514.49,1366.28 L515.38,1366.31 L516.26,1366.34 L517.15,1366.37 L518.04,1366.40 L518.92,1366.43 L519.81,1366.46 L520.69,1366.48 L521.58,1366.50 L522.46,1366.53 L523.35,1366.55 L524.24,1366.56 L525.12,1366.57 L526.01,1366.58 L526.89,1366.59 L527.78,1366.59 L528.66,1366.59 L529.55,1366.60 L530.44,1366.60 L531.32,1366.60 L532.21,1366.60 L533.09,1366.60 L533.98,1366.61 L534.87,1366.61 L535.75,1366.61 L536.64,1366.61 L537.52,1366.61 L538.41,1366.61 L539.29,1366.62 L540.18,1366.62 L541.07,1366.62 L541.95,1366.62 L542.84,1366.62 L543.72,1366.62 L544.61,1366.62 L545.49,1366.63 L546.38,1366.63 L547.27,1366.63 L548.15,1366.63 L549.04,1366.63 L549.92,1366.63 L550.81,1366.63 L551.69,1366.64 L552.58,1366.64 L553.47,1366.64 L554.35,1366.64 L555.24,1366.64 L556.12,1366.64 L557.01,1366.64 L557.90,1366.64 L558.78,1366.65 L559.67,1366.65 L560.55,1366.65 L561.44,1366.65 L562.32,1366.65 L563.21,1366.65 L564.10,1366.65 L564.98,1366.65 L565.87,1366.65 L566.75,1366.65 L567.64,1366.66 L568.52,1366.66 L569.41,1366.66 L570.30,1366.66 L571.18,1366.66 L572.07,1366.66 L572.95,1366.66 L573.84,1366.66 L574.73,1366.66 L575.61,1366.66 L576.50,1366.66 L577.38,1366.66 L578.27,1366.66 L579.15,1366.67 L580.04,1366.67 L580.93,1366.67 L581.81,1366.67 L582.70,1366.67 L583.58,1366.67 L584.47,1366.67 L585.35,1366.67 L586.24,1366.67 L587.13,1366.67 L588.01,1366.67 L588.90,1366.67 L589.78,1366.67 L590.67,1366.67 L591.55,1366.67 L592.44,1366.67 L593.33,1366.67 L594.21,1366.67 L595.10,1366.67 L595.98,1366.67 L596.87,1366.67 L597.76,1366.68 L598.64,1366.68 L599.53,1366.68 L600.41,1366.68 L601.30,1366.68 L602.18,1366.68 L603.07,1366.68 L603.96,1366.68 L604.84,1366.68 L605.73,1366.68 L606.61,1366.68 L607.50,1366.68 L608.38,1366.68 L609.27,1366.68 L610.16,1366.68 L611.04,1366.68 L611.93,1366.68 L612.81,1366.68 L613.70,1366.68 L614.58,1366.68 L615.47,1366.68 L616.36,1366.68 L617.24,1366.68 L618.13,1366.68 L619.01,1366.68 L619.90,1366.68 L620.79,1366.68 L621.67,1366.68 L622.56,1366.68 L623.44,1366.68 L624.33,1366.68 L625.21,1366.68 L626.10,1366.68" fill="none" stroke="#1565b1" stroke-width="2.4" stroke-linejoin="round" stroke-linecap="round"/>
<path d="M414.40,1365.35 L415.29,1363.23 L416.17,1361.18 L417.06,1359.21 L417.94,1357.31 L418.83,1355.51 L419.71,1353.81 L420.60,1352.19 L421.49,1350.57 L422.37,1348.97 L423.26,1347.45 L424.14,1346.05 L425.03,1344.80 L425.92,1343.75 L426.80,1342.91 L427.69,1342.11 L428.57,1341.34 L429.46,1340.65 L430.34,1340.08 L431.23,1339.68 L432.12,1339.48 L433.00,1339.50 L433.89,1339.66 L434.77,1339.93 L435.66,1340.29 L436.54,1340.71 L437.43,1341.19 L438.32,1341.70 L439.20,1342.25 L440.09,1343.02 L440.97,1344.00 L441.86,1345.12 L442.74,1346.33 L443.63,1347.55 L444.52,1348.74 L445.40,1349.83 L446.29,1350.76 L447.17,1351.65 L448.06,1352.56 L448.95,1353.46 L449.83,1354.31 L450.72,1355.10 L451.60,1355.79 L452.49,1356.36 L453.37,1356.77 L454.26,1357.06 L455.15,1357.34 L456.03,1357.59 L456.92,1357.81 L457.80,1358.01 L458.69,1358.16 L459.57,1358.28 L460.46,1358.34 L461.35,1358.34 L462.23,1358.28 L463.12,1358.15 L464.00,1357.97 L464.89,1357.76 L465.77,1357.51 L466.66,1357.25 L467.55,1356.97 L468.43,1356.70 L469.32,1356.43 L470.20,1356.17 L471.09,1355.90 L471.98,1355.61 L472.86,1355.31 L473.75,1355.00 L474.63,1354.67 L475.52,1354.33 L476.40,1353.98 L477.29,1353.62 L478.18,1353.25 L479.06,1352.88 L479.95,1352.50 L480.83,1352.11 L481.72,1351.71 L482.60,1351.32 L483.49,1350.92 L484.38,1350.51 L485.26,1350.11 L486.15,1349.70 L487.03,1349.30 L487.92,1348.89 L488.81,1348.49 L489.69,1348.09 L490.58,1347.68 L491.46,1347.26 L492.35,1346.83 L493.23,1346.38 L494.12,1345.93 L495.01,1345.47 L495.89,1345.00 L496.78,1344.53 L497.66,1344.06 L498.55,1343.59 L499.43,1343.11 L500.32,1342.64 L501.21,1342.17 L502.09,1341.71 L502.98,1341.25 L503.86,1340.80 L504.75,1340.36 L505.63,1339.94 L506.52,1339.52 L507.41,1339.12 L508.29,1338.73 L509.18,1338.37 L510.06,1338.01 L510.95,1337.65 L511.84,1337.29 L512.72,1336.94 L513.61,1336.58 L514.49,1336.23 L515.38,1335.88 L516.26,1335.53 L517.15,1335.19 L518.04,1334.85 L518.92,1334.52 L519.81,1334.20 L520.69,1333.88 L521.58,1333.57 L522.46,1333.27 L523.35,1332.98 L524.24,1332.70 L525.12,1332.43 L526.01,1332.17 L526.89,1331.92 L527.78,1331.69 L528.66,1331.47 L529.55,1331.27 L530.44,1331.08 L531.32,1330.91 L532.21,1330.74 L533.09,1330.58 L533.98,1330.42 L534.87,1330.26 L535.75,1330.10 L536.64,1329.95 L537.52,1329.79 L538.41,1329.64 L539.29,1329.50 L540.18,1329.36 L541.07,1329.23 L541.95,1329.10 L542.84,1328.98 L543.72,1328.87 L544.61,1328.77 L545.49,1328.68 L546.38,1328.60 L547.27,1328.53 L548.15,1328.48 L549.04,1328.43 L549.92,1328.40 L550.81,1328.39 L551.69,1328.38 L552.58,1328.39 L553.47,1328.40 L554.35,1328.42 L555.24,1328.45 L556.12,1328.48 L557.01,1328.52 L557.90,1328.56 L558.78,1328.61 L559.67,1328.66 L560.55,1328.71 L561.44,1328.77 L562.32,1328.84 L563.21,1328.91 L564.10,1328.98 L564.98,1329.05 L565.87,1329.13 L566.75,1329.21 L567.64,1329.29 L568.52,1329.37 L569.41,1329.46 L570.30,1329.55 L571.18,1329.64 L572.07,1329.74 L572.95,1329.86 L573.84,1330.00 L574.73,1330.16 L575.61,1330.34 L576.50,1330.53 L577.38,1330.73 L578.27,1330.95 L579.15,1331.18 L580.04,1331.42 L580.93,1331.66 L581.81,1331.91 L582.70,1332.17 L583.58,1332.44 L584.47,1332.70 L585.35,1332.97 L586.24,1333.24 L587.13,1333.51 L588.01,1333.77 L588.90,1334.04 L589.78,1334.30 L590.67,1334.55 L591.55,1334.80 L592.44,1335.05 L593.33,1335.30 L594.21,1335.55 L595.10,1335.81 L595.98,1336.07 L596.87,1336.33 L597.76,1336.60 L598.64,1336.86 L599.53,1337.13 L600.41,1337.41 L601.30,1337.68 L602.18,1337.96 L603.07,1338.25 L603.96,1338.53 L604.84,1338.82 L605.73,1339.12 L606.61,1339.42 L607.50,1339.72 L608.38,1340.02 L609.27,1340.33 L610.16,1340.64 L611.04,1340.96 L611.93,1341.29 L612.81,1341.62 L613.70,1341.95 L614.58,1342.29 L615.47,1342.64 L616.36,1342.99 L617.24,1343.35 L618.13,1343.71 L619.01,1344.08 L619.90,1344.45 L620.79,1344.83 L621.67,1345.21 L622.56,1345.60 L623.44,1345.99 L624.33,1346.38 L625.21,1346.78 L626.10,1347.18" fill="none" stroke="#000" stroke-width="2.5" stroke-dasharray="8.6 10.4" stroke-linecap="round" stroke-dashoffset="-1.5"/>
<path d="M554.10,1338.00 L554.10,1359.40" fill="none" stroke="#1a1a1a" stroke-width="1.9" stroke-linecap="round"/>
<polygon points="549.80,1358.40 558.40,1358.40 554.10,1364.60" fill="#1a1a1a" stroke="#1a1a1a" stroke-width="0.9" stroke-linejoin="round"/>
<path d="M691.70,1365.45 L692.59,1363.33 L693.47,1361.28 L694.36,1359.31 L695.25,1357.42 L696.14,1355.63 L697.02,1353.93 L697.91,1352.31 L698.80,1350.68 L699.68,1349.09 L700.57,1347.57 L701.46,1346.17 L702.34,1344.92 L703.23,1343.87 L704.12,1343.04 L705.01,1342.23 L705.89,1341.47 L706.78,1340.78 L707.67,1340.21 L708.55,1339.80 L709.44,1339.61 L710.33,1339.63 L711.21,1339.78 L712.10,1340.05 L712.99,1340.41 L713.88,1340.84 L714.76,1341.32 L715.65,1341.82 L716.54,1342.37 L717.42,1343.15 L718.31,1344.13 L719.20,1345.25 L720.08,1346.45 L720.97,1347.67 L721.86,1348.86 L722.75,1349.95 L723.63,1350.88 L724.52,1351.77 L725.41,1352.68 L726.29,1353.57 L727.18,1354.42 L728.07,1355.21 L728.96,1355.90 L729.84,1356.47 L730.73,1356.88 L731.62,1357.17 L732.50,1357.45 L733.39,1357.70 L734.28,1357.92 L735.16,1358.12 L736.05,1358.27 L736.94,1358.38 L737.83,1358.44 L738.71,1358.45 L739.60,1358.38 L740.49,1358.26 L741.37,1358.08 L742.26,1357.87 L743.15,1357.62 L744.03,1357.36 L744.92,1357.08 L745.81,1356.81 L746.70,1356.54 L747.58,1356.28 L748.47,1356.01 L749.36,1355.72 L750.24,1355.42 L751.13,1355.10 L752.02,1354.77 L752.91,1354.43 L753.79,1354.08 L754.68,1353.72 L755.57,1353.34 L756.45,1352.96 L757.34,1352.58 L758.23,1352.18 L759.11,1351.78 L760.00,1351.38 L760.89,1350.96 L761.78,1350.55 L762.66,1350.13 L763.55,1349.71 L764.44,1349.29 L765.32,1348.87 L766.21,1348.45 L767.10,1348.03 L767.98,1347.60 L768.87,1347.16 L769.76,1346.71 L770.65,1346.25 L771.53,1345.78 L772.42,1345.30 L773.31,1344.82 L774.19,1344.34 L775.08,1343.85 L775.97,1343.35 L776.85,1342.86 L777.74,1342.37 L778.63,1341.87 L779.52,1341.38 L780.40,1340.90 L781.29,1340.40 L782.18,1339.89 L783.06,1339.38 L783.95,1338.86 L784.84,1338.33 L785.73,1337.81 L786.61,1337.27 L787.50,1336.74 L788.39,1336.21 L789.27,1335.68 L790.16,1335.16 L791.05,1334.64 L791.93,1334.12 L792.82,1333.62 L793.71,1333.12 L794.60,1332.64 L795.48,1332.17 L796.37,1331.71 L797.26,1331.27 L798.14,1330.85 L799.03,1330.44 L799.92,1330.04 L800.80,1329.65 L801.69,1329.27 L802.58,1328.89 L803.47,1328.52 L804.35,1328.15 L805.24,1327.79 L806.13,1327.43 L807.01,1327.08 L807.90,1326.74 L808.79,1326.40 L809.67,1326.06 L810.56,1325.73 L811.45,1325.41 L812.34,1325.09 L813.22,1324.77 L814.11,1324.46 L815.00,1324.15 L815.88,1323.84 L816.77,1323.54 L817.66,1323.25 L818.55,1322.95 L819.43,1322.66 L820.32,1322.38 L821.21,1322.09 L822.09,1321.81 L822.98,1321.54 L823.87,1321.26 L824.75,1320.99 L825.64,1320.72 L826.53,1320.45 L827.42,1320.19 L828.30,1319.92 L829.19,1319.67 L830.08,1319.41 L830.96,1319.16 L831.85,1318.90 L832.74,1318.66 L833.62,1318.41 L834.51,1318.17 L835.40,1317.93 L836.29,1317.70 L837.17,1317.47 L838.06,1317.24 L838.95,1317.01 L839.83,1316.79 L840.72,1316.57 L841.61,1316.36 L842.49,1316.14 L843.38,1315.94 L844.27,1315.73 L845.16,1315.53 L846.04,1315.33 L846.93,1315.14 L847.82,1314.95 L848.70,1314.76 L849.59,1314.57 L850.48,1314.38 L851.37,1314.19 L852.25,1314.00 L853.14,1313.82 L854.03,1313.64 L854.91,1313.46 L855.80,1313.28 L856.69,1313.11 L857.57,1312.94 L858.46,1312.77 L859.35,1312.60 L860.24,1312.44 L861.12,1312.28 L862.01,1312.13 L862.90,1311.97 L863.78,1311.83 L864.67,1311.68 L865.56,1311.54 L866.44,1311.41 L867.33,1311.28 L868.22,1311.16 L869.11,1311.04 L869.99,1310.92 L870.88,1310.81 L871.77,1310.70 L872.65,1310.59 L873.54,1310.48 L874.43,1310.37 L875.32,1310.27 L876.20,1310.16 L877.09,1310.06 L877.98,1309.95 L878.86,1309.85 L879.75,1309.75 L880.64,1309.65 L881.52,1309.55 L882.41,1309.46 L883.30,1309.36 L884.19,1309.27 L885.07,1309.18 L885.96,1309.09 L886.85,1309.00 L887.73,1308.91 L888.62,1308.83 L889.51,1308.75 L890.39,1308.67 L891.28,1308.59 L892.17,1308.52 L893.06,1308.45 L893.94,1308.38 L894.83,1308.31 L895.72,1308.25 L896.60,1308.18 L897.49,1308.13 L898.38,1308.07 L899.26,1308.02 L900.15,1307.97 L901.04,1307.92 L901.93,1307.88 L902.81,1307.84 L903.70,1307.80" fill="none" stroke="#11a04b" stroke-width="2.4" stroke-linejoin="round" stroke-linecap="round"/>
<path d="M691.70,1365.45 L692.59,1363.33 L693.47,1361.28 L694.36,1359.31 L695.25,1357.42 L696.14,1355.63 L697.02,1353.93 L697.91,1352.31 L698.80,1350.68 L699.68,1349.09 L700.57,1347.57 L701.46,1346.17 L702.34,1344.92 L703.23,1343.87 L704.12,1343.04 L705.01,1342.23 L705.89,1341.47 L706.78,1340.78 L707.67,1340.21 L708.55,1339.80 L709.44,1339.61 L710.33,1339.63 L711.21,1339.78 L712.10,1340.05 L712.99,1340.41 L713.88,1340.84 L714.76,1341.32 L715.65,1341.82 L716.54,1342.37 L717.42,1343.15 L718.31,1344.13 L719.20,1345.25 L720.08,1346.45 L720.97,1347.67 L721.86,1348.86 L722.75,1349.95 L723.63,1350.88 L724.52,1351.77 L725.41,1352.68 L726.29,1353.57 L727.18,1354.42 L728.07,1355.21 L728.96,1355.90 L729.84,1356.47 L730.73,1356.88 L731.62,1357.17 L732.50,1357.45 L733.39,1357.70 L734.28,1357.92 L735.16,1358.12 L736.05,1358.27 L736.94,1358.38 L737.83,1358.44 L738.71,1358.45 L739.60,1358.38 L740.49,1358.26 L741.37,1358.08 L742.26,1357.87 L743.15,1357.62 L744.03,1357.35 L744.92,1357.08 L745.81,1356.81 L746.70,1356.54 L747.58,1356.28 L748.47,1356.01 L749.36,1355.72 L750.24,1355.42 L751.13,1355.11 L752.02,1354.78 L752.91,1354.44 L753.79,1354.09 L754.68,1353.73 L755.57,1353.37 L756.45,1352.99 L757.34,1352.61 L758.23,1352.22 L759.11,1351.83 L760.00,1351.43 L760.89,1351.03 L761.78,1350.63 L762.66,1350.22 L763.55,1349.82 L764.44,1349.41 L765.32,1349.01 L766.21,1348.61 L767.10,1348.21 L767.98,1347.80 L768.87,1347.38 L769.76,1346.95 L770.65,1346.50 L771.53,1346.05 L772.42,1345.59 L773.31,1345.13 L774.19,1344.66 L775.08,1344.18 L775.97,1343.71 L776.85,1343.24 L777.74,1342.77 L778.63,1342.30 L779.52,1341.84 L780.40,1341.38 L781.29,1340.93 L782.18,1340.49 L783.06,1340.07 L783.95,1339.65 L784.84,1339.25 L785.73,1338.86 L786.61,1338.50 L787.50,1338.14 L788.39,1337.78 L789.27,1337.43 L790.16,1337.07 L791.05,1336.71 L791.93,1336.36 L792.82,1336.01 L793.71,1335.67 L794.60,1335.32 L795.48,1334.99 L796.37,1334.66 L797.26,1334.33 L798.14,1334.02 L799.03,1333.71 L799.92,1333.41 L800.80,1333.11 L801.69,1332.83 L802.58,1332.56 L803.47,1332.31 L804.35,1332.06 L805.24,1331.83 L806.13,1331.61 L807.01,1331.41 L807.90,1331.22 L808.79,1331.04 L809.67,1330.88 L810.56,1330.72 L811.45,1330.56 L812.34,1330.40 L813.22,1330.24 L814.11,1330.09 L815.00,1329.93 L815.88,1329.78 L816.77,1329.64 L817.66,1329.50 L818.55,1329.37 L819.43,1329.24 L820.32,1329.12 L821.21,1329.01 L822.09,1328.91 L822.98,1328.82 L823.87,1328.74 L824.75,1328.67 L825.64,1328.62 L826.53,1328.57 L827.42,1328.54 L828.30,1328.53 L829.19,1328.53 L830.08,1328.53 L830.96,1328.54 L831.85,1328.56 L832.74,1328.59 L833.62,1328.62 L834.51,1328.66 L835.40,1328.70 L836.29,1328.75 L837.17,1328.80 L838.06,1328.85 L838.95,1328.91 L839.83,1328.98 L840.72,1329.05 L841.61,1329.12 L842.49,1329.19 L843.38,1329.27 L844.27,1329.35 L845.16,1329.43 L846.04,1329.52 L846.93,1329.60 L847.82,1329.69 L848.70,1329.78 L849.59,1329.88 L850.48,1330.00 L851.37,1330.14 L852.25,1330.30 L853.14,1330.48 L854.03,1330.67 L854.91,1330.87 L855.80,1331.09 L856.69,1331.32 L857.57,1331.55 L858.46,1331.80 L859.35,1332.05 L860.24,1332.31 L861.12,1332.57 L862.01,1332.84 L862.90,1333.11 L863.78,1333.38 L864.67,1333.64 L865.56,1333.91 L866.44,1334.17 L867.33,1334.43 L868.22,1334.68 L869.11,1334.93 L869.99,1335.18 L870.88,1335.43 L871.77,1335.69 L872.65,1335.94 L873.54,1336.20 L874.43,1336.46 L875.32,1336.73 L876.20,1337.00 L877.09,1337.27 L877.98,1337.54 L878.86,1337.82 L879.75,1338.10 L880.64,1338.38 L881.52,1338.67 L882.41,1338.95 L883.30,1339.25 L884.19,1339.55 L885.07,1339.85 L885.96,1340.15 L886.85,1340.46 L887.73,1340.77 L888.62,1341.09 L889.51,1341.41 L890.39,1341.74 L891.28,1342.08 L892.17,1342.42 L893.06,1342.77 L893.94,1343.12 L894.83,1343.47 L895.72,1343.84 L896.60,1344.20 L897.49,1344.58 L898.38,1344.95 L899.26,1345.33 L900.15,1345.72 L901.04,1346.11 L901.93,1346.50 L902.81,1346.90 L903.70,1347.30" fill="none" stroke="#000" stroke-width="2.5" stroke-dasharray="8.6 10.4" stroke-linecap="round" stroke-dashoffset="-1.5"/>
<path d="M891.70,1342.40 L891.20,1324.40" fill="none" stroke="#e0282a" stroke-width="2.0" stroke-linecap="round"/>
<polygon points="887.10,1325.40 895.30,1325.40 891.20,1319.20" fill="#e0282a" stroke="#e0282a" stroke-width="0.9" stroke-linejoin="round"/>
<path d="M122.65,1696.03 L123.54,1696.59 L124.43,1697.19 L125.33,1697.81 L126.22,1698.46 L127.11,1699.13 L128.00,1699.82 L128.89,1700.54 L129.78,1701.28 L130.68,1702.05 L131.57,1702.93 L132.46,1703.87 L133.35,1704.85 L134.24,1705.81 L135.14,1706.74 L136.03,1707.58 L136.92,1708.30 L137.81,1708.91 L138.70,1709.52 L139.59,1710.14 L140.49,1710.72 L141.38,1711.24 L142.27,1711.68 L143.16,1712.01 L144.05,1712.20 L144.95,1712.24 L145.84,1712.11 L146.73,1711.84 L147.62,1711.45 L148.51,1710.98 L149.41,1710.45 L150.30,1709.89 L151.19,1709.32 L152.08,1708.61 L152.97,1707.73 L153.86,1706.70 L154.76,1705.56 L155.65,1704.35 L156.54,1703.11 L157.43,1701.86 L158.32,1700.65 L159.22,1699.51 L160.11,1698.45 L161.00,1697.38 L161.89,1696.28 L162.78,1695.18 L163.67,1694.09 L164.57,1693.01 L165.46,1691.96 L166.35,1690.96 L167.24,1690.01 L168.13,1689.13 L169.03,1688.33 L169.92,1687.62 L170.81,1686.95 L171.70,1686.31 L172.59,1685.69 L173.48,1685.10 L174.38,1684.53 L175.27,1683.98 L176.16,1683.45 L177.05,1682.94 L177.94,1682.45 L178.84,1681.97 L179.73,1681.51 L180.62,1681.06 L181.51,1680.63 L182.40,1680.21 L183.30,1679.80 L184.19,1679.39 L185.08,1679.00 L185.97,1678.61 L186.86,1678.23 L187.75,1677.86 L188.65,1677.49 L189.54,1677.14 L190.43,1676.79 L191.32,1676.45 L192.21,1676.11 L193.11,1675.78 L194.00,1675.46 L194.89,1675.15 L195.78,1674.84 L196.67,1674.54 L197.56,1674.25 L198.46,1673.96 L199.35,1673.68 L200.24,1673.41 L201.13,1673.14 L202.02,1672.88 L202.92,1672.63 L203.81,1672.38 L204.70,1672.14 L205.59,1671.90 L206.48,1671.66 L207.37,1671.42 L208.27,1671.19 L209.16,1670.95 L210.05,1670.73 L210.94,1670.50 L211.83,1670.27 L212.73,1670.05 L213.62,1669.84 L214.51,1669.62 L215.40,1669.41 L216.29,1669.21 L217.19,1669.01 L218.08,1668.81 L218.97,1668.62 L219.86,1668.44 L220.75,1668.26 L221.64,1668.08 L222.54,1667.91 L223.43,1667.75 L224.32,1667.60 L225.21,1667.45 L226.10,1667.31 L227.00,1667.18 L227.89,1667.05 L228.78,1666.94 L229.67,1666.83 L230.56,1666.72 L231.45,1666.61 L232.35,1666.50 L233.24,1666.39 L234.13,1666.28 L235.02,1666.18 L235.91,1666.07 L236.81,1665.96 L237.70,1665.86 L238.59,1665.76 L239.48,1665.66 L240.37,1665.56 L241.26,1665.47 L242.16,1665.37 L243.05,1665.28 L243.94,1665.20 L244.83,1665.11 L245.72,1665.03 L246.62,1664.96 L247.51,1664.88 L248.40,1664.82 L249.29,1664.75 L250.18,1664.69 L251.08,1664.64 L251.97,1664.59 L252.86,1664.54 L253.75,1664.50 L254.64,1664.47 L255.53,1664.44 L256.43,1664.41 L257.32,1664.40 L258.21,1664.39 L259.10,1664.39 L259.99,1664.39 L260.89,1664.39 L261.78,1664.40 L262.67,1664.42 L263.56,1664.44 L264.45,1664.46 L265.34,1664.48 L266.24,1664.51 L267.13,1664.54 L268.02,1664.58 L268.91,1664.61 L269.80,1664.65 L270.70,1664.70 L271.59,1664.74 L272.48,1664.79 L273.37,1664.84 L274.26,1664.89 L275.15,1664.94 L276.05,1665.00 L276.94,1665.06 L277.83,1665.12 L278.72,1665.18 L279.61,1665.24 L280.51,1665.30 L281.40,1665.36 L282.29,1665.43 L283.18,1665.49 L284.07,1665.55 L284.97,1665.63 L285.86,1665.71 L286.75,1665.80 L287.64,1665.90 L288.53,1666.01 L289.42,1666.12 L290.32,1666.25 L291.21,1666.38 L292.10,1666.52 L292.99,1666.66 L293.88,1666.81 L294.78,1666.96 L295.67,1667.12 L296.56,1667.29 L297.45,1667.45 L298.34,1667.63 L299.23,1667.80 L300.13,1667.98 L301.02,1668.15 L301.91,1668.33 L302.80,1668.52 L303.69,1668.70 L304.59,1668.88 L305.48,1669.06 L306.37,1669.24 L307.26,1669.43 L308.15,1669.60 L309.04,1669.78 L309.94,1669.96 L310.83,1670.14 L311.72,1670.33 L312.61,1670.51 L313.50,1670.70 L314.40,1670.89 L315.29,1671.09 L316.18,1671.29 L317.07,1671.49 L317.96,1671.69 L318.86,1671.90 L319.75,1672.10 L320.64,1672.31 L321.53,1672.53 L322.42,1672.74 L323.31,1672.96 L324.21,1673.18 L325.10,1673.40 L325.99,1673.63 L326.88,1673.85 L327.77,1674.08 L328.67,1674.31 L329.56,1674.55 L330.45,1674.78 L331.34,1675.02 L332.23,1675.26 L333.12,1675.50 L334.02,1675.75 L334.91,1675.99 L335.80,1676.24" fill="none" stroke="#000" stroke-width="2.8" stroke-linejoin="round" stroke-linecap="round"/>
<path d="M140.41,1697.36 L140.41,1709.75 M138.81,1697.36 L142.01,1697.36 M138.81,1709.75 L142.01,1709.75" fill="none" stroke="#555555" stroke-width="1.5" />
<ellipse cx="140.41" cy="1704.49" rx="3.3" ry="4.15" fill="#e0282a"/>
<path d="M175.94,1679.27 L175.94,1699.06 M174.34,1679.27 L177.54,1679.27 M174.34,1699.06 L177.54,1699.06" fill="none" stroke="#555555" stroke-width="1.5" />
<ellipse cx="175.94" cy="1690.32" rx="3.3" ry="4.15" fill="#e0282a"/>
<path d="M211.46,1645.76 L211.46,1677.40 M209.86,1645.76 L213.06,1645.76 M209.86,1677.40 L213.06,1677.40" fill="none" stroke="#555555" stroke-width="1.5" />
<ellipse cx="211.46" cy="1662.34" rx="3.3" ry="4.15" fill="#e0282a"/>
<path d="M278.96,1666.88 L278.96,1679.27 M277.36,1666.88 L280.56,1666.88 M277.36,1679.27 L280.56,1679.27" fill="none" stroke="#555555" stroke-width="1.5" />
<ellipse cx="278.96" cy="1673.03" rx="3.3" ry="4.15" fill="#e0282a"/>
<path d="M335.80,1686.40 L335.80,1701.02 M334.20,1686.40 L337.40,1686.40 M334.20,1701.02 L337.40,1701.02" fill="none" stroke="#555555" stroke-width="1.5" />
<ellipse cx="335.80" cy="1692.64" rx="3.3" ry="4.15" fill="#e0282a"/>
<path d="M763,0 H583 V1147 Q518,1085 412,1023 T223,930 V1104 Q374,1175 487,1276 T647,1466 H763 Z" fill="#1a1a1a" transform="translate(135.42,1737.80) scale(0.01182,-0.01136)"/>
<text font-size="23.30" fill="#1a1a1a" transform="translate(262.32,1649.00) scale(1.0000,1.0000)">2</text>
<path d="M413.40,1696.58 L414.29,1696.89 L415.18,1697.31 L416.07,1697.83 L416.96,1698.42 L417.85,1699.09 L418.74,1699.83 L419.63,1700.61 L420.52,1701.44 L421.41,1702.30 L422.30,1703.28 L423.19,1704.53 L424.08,1705.96 L424.97,1707.49 L425.86,1709.05 L426.75,1710.55 L427.64,1711.91 L428.53,1713.06 L429.42,1714.06 L430.31,1715.09 L431.20,1716.11 L432.09,1717.07 L432.98,1717.91 L433.87,1718.58 L434.76,1719.04 L435.65,1719.22 L436.54,1719.18 L437.43,1719.03 L438.32,1718.80 L439.21,1718.50 L440.10,1718.14 L440.99,1717.73 L441.88,1717.30 L442.77,1716.85 L443.66,1716.31 L444.55,1715.58 L445.44,1714.70 L446.33,1713.70 L447.22,1712.61 L448.11,1711.45 L449.00,1710.27 L449.89,1709.10 L450.78,1707.96 L451.67,1706.88 L452.56,1705.91 L453.45,1704.96 L454.34,1703.99 L455.23,1703.01 L456.12,1702.03 L457.01,1701.06 L457.90,1700.11 L458.79,1699.17 L459.68,1698.26 L460.57,1697.39 L461.46,1696.56 L462.35,1695.78 L463.24,1695.06 L464.13,1694.40 L465.02,1693.80 L465.91,1693.21 L466.80,1692.64 L467.69,1692.07 L468.58,1691.52 L469.47,1690.99 L470.36,1690.48 L471.25,1689.99 L472.14,1689.53 L473.03,1689.09 L473.92,1688.68 L474.81,1688.30 L475.70,1687.95 L476.59,1687.64 L477.48,1687.37 L478.37,1687.14 L479.26,1686.94 L480.15,1686.74 L481.04,1686.55 L481.93,1686.36 L482.82,1686.17 L483.71,1685.99 L484.60,1685.82 L485.49,1685.65 L486.38,1685.49 L487.27,1685.33 L488.16,1685.19 L489.05,1685.05 L489.94,1684.91 L490.83,1684.79 L491.72,1684.68 L492.61,1684.57 L493.50,1684.48 L494.39,1684.40 L495.28,1684.32 L496.17,1684.26 L497.06,1684.21 L497.95,1684.18 L498.84,1684.16 L499.73,1684.15 L500.62,1684.15 L501.51,1684.16 L502.40,1684.18 L503.29,1684.20 L504.18,1684.23 L505.07,1684.27 L505.96,1684.31 L506.85,1684.36 L507.74,1684.41 L508.63,1684.47 L509.52,1684.53 L510.41,1684.60 L511.30,1684.67 L512.19,1684.74 L513.08,1684.82 L513.97,1684.90 L514.86,1684.98 L515.75,1685.06 L516.64,1685.15 L517.53,1685.23 L518.42,1685.32 L519.31,1685.41 L520.19,1685.50 L521.08,1685.58 L521.97,1685.67 L522.86,1685.76 L523.75,1685.84 L524.64,1685.93 L525.53,1686.03 L526.42,1686.13 L527.31,1686.24 L528.20,1686.35 L529.09,1686.47 L529.98,1686.59 L530.87,1686.71 L531.76,1686.84 L532.65,1686.98 L533.54,1687.11 L534.43,1687.25 L535.32,1687.39 L536.21,1687.53 L537.10,1687.67 L537.99,1687.82 L538.88,1687.96 L539.77,1688.10 L540.66,1688.24 L541.55,1688.38 L542.44,1688.52 L543.33,1688.66 L544.22,1688.80 L545.11,1688.93 L546.00,1689.06 L546.89,1689.18 L547.78,1689.30 L548.67,1689.42 L549.56,1689.54 L550.45,1689.65 L551.34,1689.77 L552.23,1689.89 L553.12,1690.01 L554.01,1690.12 L554.90,1690.24 L555.79,1690.36 L556.68,1690.47 L557.57,1690.59 L558.46,1690.70 L559.35,1690.81 L560.24,1690.92 L561.13,1691.03 L562.02,1691.14 L562.91,1691.25 L563.80,1691.36 L564.69,1691.47 L565.58,1691.57 L566.47,1691.67 L567.36,1691.78 L568.25,1691.88 L569.14,1691.97 L570.03,1692.07 L570.92,1692.17 L571.81,1692.26 L572.70,1692.35 L573.59,1692.44 L574.48,1692.53 L575.37,1692.63 L576.26,1692.72 L577.15,1692.81 L578.04,1692.89 L578.93,1692.98 L579.82,1693.07 L580.71,1693.16 L581.60,1693.24 L582.49,1693.33 L583.38,1693.41 L584.27,1693.49 L585.16,1693.57 L586.05,1693.65 L586.94,1693.73 L587.83,1693.80 L588.72,1693.88 L589.61,1693.95 L590.50,1694.02 L591.39,1694.09 L592.28,1694.15 L593.17,1694.22 L594.06,1694.28 L594.95,1694.34 L595.84,1694.39 L596.73,1694.45 L597.62,1694.51 L598.51,1694.56 L599.40,1694.62 L600.29,1694.67 L601.18,1694.73 L602.07,1694.78 L602.96,1694.83 L603.85,1694.89 L604.74,1694.94 L605.63,1694.99 L606.52,1695.04 L607.41,1695.09 L608.30,1695.14 L609.19,1695.18 L610.08,1695.23 L610.97,1695.27 L611.86,1695.32 L612.75,1695.36 L613.64,1695.40 L614.53,1695.45 L615.42,1695.49 L616.31,1695.53 L617.20,1695.56 L618.09,1695.60 L618.98,1695.63 L619.87,1695.67 L620.76,1695.70 L621.65,1695.73 L622.54,1695.76 L623.43,1695.79 L624.32,1695.82 L625.21,1695.84 L626.10,1695.87" fill="none" stroke="#1565b1" stroke-width="2.4" stroke-linejoin="round" stroke-linecap="round"/>
<path d="M413.40,1696.40 L414.29,1696.96 L415.18,1697.56 L416.07,1698.18 L416.96,1698.82 L417.85,1699.49 L418.74,1700.19 L419.63,1700.90 L420.52,1701.63 L421.41,1702.41 L422.30,1703.28 L423.19,1704.22 L424.08,1705.19 L424.97,1706.15 L425.86,1707.07 L426.75,1707.91 L427.64,1708.63 L428.53,1709.23 L429.42,1709.85 L430.31,1710.46 L431.20,1711.04 L432.09,1711.56 L432.98,1712.00 L433.87,1712.33 L434.76,1712.52 L435.65,1712.55 L436.54,1712.42 L437.43,1712.16 L438.32,1711.77 L439.21,1711.31 L440.10,1710.78 L440.99,1710.21 L441.88,1709.64 L442.77,1708.94 L443.66,1708.06 L444.55,1707.04 L445.44,1705.90 L446.33,1704.70 L447.22,1703.45 L448.11,1702.21 L449.00,1701.01 L449.89,1699.87 L450.78,1698.82 L451.67,1697.75 L452.56,1696.66 L453.45,1695.56 L454.34,1694.47 L455.23,1693.40 L456.12,1692.35 L457.01,1691.35 L457.90,1690.41 L458.79,1689.53 L459.68,1688.74 L460.57,1688.03 L461.46,1687.36 L462.35,1686.72 L463.24,1686.11 L464.13,1685.51 L465.02,1684.94 L465.91,1684.40 L466.80,1683.87 L467.69,1683.36 L468.58,1682.87 L469.47,1682.40 L470.36,1681.94 L471.25,1681.49 L472.14,1681.06 L473.03,1680.64 L473.92,1680.23 L474.81,1679.83 L475.70,1679.43 L476.59,1679.05 L477.48,1678.67 L478.37,1678.30 L479.26,1677.94 L480.15,1677.58 L481.04,1677.23 L481.93,1676.89 L482.82,1676.56 L483.71,1676.23 L484.60,1675.91 L485.49,1675.60 L486.38,1675.29 L487.27,1674.99 L488.16,1674.70 L489.05,1674.42 L489.94,1674.14 L490.83,1673.86 L491.72,1673.60 L492.61,1673.34 L493.50,1673.09 L494.39,1672.84 L495.28,1672.60 L496.17,1672.36 L497.06,1672.12 L497.95,1671.89 L498.84,1671.65 L499.73,1671.42 L500.62,1671.19 L501.51,1670.97 L502.40,1670.74 L503.29,1670.52 L504.18,1670.31 L505.07,1670.09 L505.96,1669.88 L506.85,1669.68 L507.74,1669.48 L508.63,1669.29 L509.52,1669.10 L510.41,1668.91 L511.30,1668.73 L512.19,1668.56 L513.08,1668.39 L513.97,1668.23 L514.86,1668.08 L515.75,1667.93 L516.64,1667.79 L517.53,1667.66 L518.42,1667.53 L519.31,1667.42 L520.19,1667.31 L521.08,1667.20 L521.97,1667.09 L522.86,1666.98 L523.75,1666.87 L524.64,1666.77 L525.53,1666.66 L526.42,1666.55 L527.31,1666.45 L528.20,1666.35 L529.09,1666.25 L529.98,1666.15 L530.87,1666.05 L531.76,1665.95 L532.65,1665.86 L533.54,1665.77 L534.43,1665.69 L535.32,1665.60 L536.21,1665.52 L537.10,1665.45 L537.99,1665.37 L538.88,1665.30 L539.77,1665.24 L540.66,1665.18 L541.55,1665.12 L542.44,1665.07 L543.33,1665.03 L544.22,1664.99 L545.11,1664.96 L546.00,1664.93 L546.89,1664.91 L547.78,1664.89 L548.67,1664.88 L549.56,1664.88 L550.45,1664.88 L551.34,1664.88 L552.23,1664.90 L553.12,1664.91 L554.01,1664.93 L554.90,1664.95 L555.79,1664.97 L556.68,1665.00 L557.57,1665.03 L558.46,1665.07 L559.35,1665.10 L560.24,1665.14 L561.13,1665.19 L562.02,1665.23 L562.91,1665.28 L563.80,1665.33 L564.69,1665.38 L565.58,1665.43 L566.47,1665.49 L567.36,1665.54 L568.25,1665.60 L569.14,1665.66 L570.03,1665.72 L570.92,1665.79 L571.81,1665.85 L572.70,1665.91 L573.59,1665.98 L574.48,1666.04 L575.37,1666.11 L576.26,1666.19 L577.15,1666.28 L578.04,1666.38 L578.93,1666.49 L579.82,1666.61 L580.71,1666.73 L581.60,1666.86 L582.49,1667.00 L583.38,1667.14 L584.27,1667.29 L585.16,1667.44 L586.05,1667.60 L586.94,1667.77 L587.83,1667.93 L588.72,1668.10 L589.61,1668.28 L590.50,1668.45 L591.39,1668.63 L592.28,1668.81 L593.17,1668.99 L594.06,1669.17 L594.95,1669.36 L595.84,1669.54 L596.73,1669.72 L597.62,1669.90 L598.51,1670.08 L599.40,1670.25 L600.29,1670.43 L601.18,1670.61 L602.07,1670.79 L602.96,1670.98 L603.85,1671.17 L604.74,1671.36 L605.63,1671.56 L606.52,1671.75 L607.41,1671.95 L608.30,1672.15 L609.19,1672.36 L610.08,1672.57 L610.97,1672.78 L611.86,1672.99 L612.75,1673.20 L613.64,1673.42 L614.53,1673.64 L615.42,1673.86 L616.31,1674.08 L617.20,1674.31 L618.09,1674.54 L618.98,1674.77 L619.87,1675.00 L620.76,1675.24 L621.65,1675.47 L622.54,1675.71 L623.43,1675.95 L624.32,1676.19 L625.21,1676.44 L626.10,1676.69" fill="none" stroke="#000" stroke-width="2.5" stroke-dasharray="8.6 10.4" stroke-linecap="round" stroke-dashoffset="-1.5"/>
<path d="M570.80,1671.10 L570.80,1685.10" fill="none" stroke="#1a1a1a" stroke-width="1.9" stroke-linecap="round"/>
<polygon points="566.50,1684.10 575.10,1684.10 570.80,1690.30" fill="#1a1a1a" stroke="#1a1a1a" stroke-width="0.9" stroke-linejoin="round"/>
<path d="M692.90,1695.46 L693.79,1695.88 L694.68,1696.36 L695.57,1696.90 L696.45,1697.50 L697.34,1698.15 L698.23,1698.85 L699.12,1699.59 L700.01,1700.36 L700.90,1701.16 L701.79,1701.99 L702.68,1702.92 L703.56,1704.01 L704.45,1705.19 L705.34,1706.44 L706.23,1707.69 L707.12,1708.92 L708.01,1710.07 L708.90,1711.10 L709.79,1712.14 L710.67,1713.27 L711.56,1714.38 L712.45,1715.40 L713.34,1716.25 L714.23,1716.83 L715.12,1717.07 L716.01,1717.02 L716.89,1716.86 L717.78,1716.60 L718.67,1716.26 L719.56,1715.87 L720.45,1715.43 L721.34,1714.98 L722.23,1714.51 L723.12,1713.92 L724.00,1713.18 L724.89,1712.33 L725.78,1711.38 L726.67,1710.36 L727.56,1709.29 L728.45,1708.19 L729.34,1707.09 L730.23,1706.02 L731.11,1704.98 L732.00,1704.02 L732.89,1703.13 L733.78,1702.25 L734.67,1701.36 L735.56,1700.46 L736.45,1699.55 L737.34,1698.66 L738.22,1697.77 L739.11,1696.89 L740.00,1696.03 L740.89,1695.20 L741.78,1694.40 L742.67,1693.64 L743.56,1692.91 L744.44,1692.23 L745.33,1691.60 L746.22,1691.03 L747.11,1690.52 L748.00,1690.02 L748.89,1689.53 L749.78,1689.05 L750.67,1688.58 L751.55,1688.12 L752.44,1687.68 L753.33,1687.25 L754.22,1686.85 L755.11,1686.45 L756.00,1686.08 L756.89,1685.73 L757.78,1685.40 L758.66,1685.09 L759.55,1684.81 L760.44,1684.55 L761.33,1684.32 L762.22,1684.11 L763.11,1683.94 L764.00,1683.79 L764.88,1683.64 L765.77,1683.49 L766.66,1683.35 L767.55,1683.21 L768.44,1683.08 L769.33,1682.96 L770.22,1682.84 L771.11,1682.72 L771.99,1682.62 L772.88,1682.52 L773.77,1682.43 L774.66,1682.35 L775.55,1682.28 L776.44,1682.23 L777.33,1682.18 L778.22,1682.15 L779.10,1682.12 L779.99,1682.12 L780.88,1682.12 L781.77,1682.13 L782.66,1682.14 L783.55,1682.15 L784.44,1682.16 L785.33,1682.18 L786.21,1682.21 L787.10,1682.23 L787.99,1682.26 L788.88,1682.29 L789.77,1682.32 L790.66,1682.35 L791.55,1682.39 L792.43,1682.43 L793.32,1682.46 L794.21,1682.50 L795.10,1682.55 L795.99,1682.59 L796.88,1682.63 L797.77,1682.67 L798.66,1682.72 L799.54,1682.76 L800.43,1682.82 L801.32,1682.88 L802.21,1682.95 L803.10,1683.02 L803.99,1683.10 L804.88,1683.19 L805.77,1683.28 L806.65,1683.38 L807.54,1683.49 L808.43,1683.59 L809.32,1683.70 L810.21,1683.82 L811.10,1683.94 L811.99,1684.05 L812.87,1684.18 L813.76,1684.30 L814.65,1684.42 L815.54,1684.54 L816.43,1684.67 L817.32,1684.79 L818.21,1684.91 L819.10,1685.03 L819.98,1685.14 L820.87,1685.26 L821.76,1685.37 L822.65,1685.48 L823.54,1685.58 L824.43,1685.69 L825.32,1685.80 L826.21,1685.91 L827.09,1686.02 L827.98,1686.13 L828.87,1686.24 L829.76,1686.36 L830.65,1686.47 L831.54,1686.58 L832.43,1686.70 L833.32,1686.81 L834.20,1686.92 L835.09,1687.03 L835.98,1687.15 L836.87,1687.26 L837.76,1687.36 L838.65,1687.47 L839.54,1687.58 L840.42,1687.68 L841.31,1687.79 L842.20,1687.89 L843.09,1687.99 L843.98,1688.08 L844.87,1688.18 L845.76,1688.27 L846.65,1688.36 L847.53,1688.44 L848.42,1688.53 L849.31,1688.61 L850.20,1688.70 L851.09,1688.79 L851.98,1688.87 L852.87,1688.95 L853.76,1689.04 L854.64,1689.12 L855.53,1689.20 L856.42,1689.28 L857.31,1689.36 L858.20,1689.44 L859.09,1689.51 L859.98,1689.59 L860.86,1689.66 L861.75,1689.73 L862.64,1689.80 L863.53,1689.87 L864.42,1689.93 L865.31,1690.00 L866.20,1690.06 L867.09,1690.11 L867.97,1690.17 L868.86,1690.22 L869.75,1690.27 L870.64,1690.32 L871.53,1690.37 L872.42,1690.42 L873.31,1690.46 L874.20,1690.51 L875.08,1690.56 L875.97,1690.60 L876.86,1690.65 L877.75,1690.69 L878.64,1690.74 L879.53,1690.78 L880.42,1690.82 L881.31,1690.86 L882.19,1690.91 L883.08,1690.95 L883.97,1690.99 L884.86,1691.03 L885.75,1691.07 L886.64,1691.10 L887.53,1691.14 L888.41,1691.18 L889.30,1691.21 L890.19,1691.25 L891.08,1691.28 L891.97,1691.31 L892.86,1691.34 L893.75,1691.37 L894.64,1691.40 L895.52,1691.43 L896.41,1691.45 L897.30,1691.48 L898.19,1691.50 L899.08,1691.52 L899.97,1691.54 L900.86,1691.56 L901.75,1691.58 L902.63,1691.60 L903.52,1691.61 L904.41,1691.62 L905.30,1691.64" fill="none" stroke="#11a04b" stroke-width="2.4" stroke-linejoin="round" stroke-linecap="round"/>
<path d="M692.90,1696.35 L693.79,1696.92 L694.68,1697.51 L695.57,1698.13 L696.45,1698.78 L697.34,1699.45 L698.23,1700.14 L699.12,1700.86 L700.01,1701.59 L700.90,1702.37 L701.79,1703.24 L702.68,1704.18 L703.56,1705.15 L704.45,1706.12 L705.34,1707.04 L706.23,1707.88 L707.12,1708.60 L708.01,1709.21 L708.90,1709.82 L709.79,1710.43 L710.67,1711.01 L711.56,1711.53 L712.45,1711.97 L713.34,1712.30 L714.23,1712.50 L715.12,1712.53 L716.01,1712.40 L716.89,1712.13 L717.78,1711.75 L718.67,1711.28 L719.56,1710.75 L720.45,1710.19 L721.34,1709.61 L722.23,1708.91 L723.12,1708.03 L724.00,1707.01 L724.89,1705.87 L725.78,1704.66 L726.67,1703.42 L727.56,1702.17 L728.45,1700.96 L729.34,1699.83 L730.23,1698.77 L731.11,1697.70 L732.00,1696.61 L732.89,1695.51 L733.78,1694.42 L734.67,1693.34 L735.56,1692.30 L736.45,1691.29 L737.34,1690.35 L738.22,1689.47 L739.11,1688.67 L740.00,1687.97 L740.89,1687.30 L741.78,1686.66 L742.67,1686.04 L743.56,1685.45 L744.44,1684.87 L745.33,1684.33 L746.22,1683.80 L747.11,1683.29 L748.00,1682.80 L748.89,1682.32 L749.78,1681.86 L750.67,1681.42 L751.55,1680.98 L752.44,1680.56 L753.33,1680.15 L754.22,1679.75 L755.11,1679.36 L756.00,1678.97 L756.89,1678.59 L757.78,1678.22 L758.66,1677.86 L759.55,1677.50 L760.44,1677.15 L761.33,1676.81 L762.22,1676.47 L763.11,1676.15 L764.00,1675.83 L764.88,1675.51 L765.77,1675.21 L766.66,1674.91 L767.55,1674.61 L768.44,1674.33 L769.33,1674.05 L770.22,1673.78 L771.11,1673.51 L771.99,1673.25 L772.88,1673.00 L773.77,1672.75 L774.66,1672.51 L775.55,1672.27 L776.44,1672.03 L777.33,1671.80 L778.22,1671.56 L779.10,1671.33 L779.99,1671.10 L780.88,1670.87 L781.77,1670.65 L782.66,1670.43 L783.55,1670.21 L784.44,1670.00 L785.33,1669.79 L786.21,1669.59 L787.10,1669.39 L787.99,1669.19 L788.88,1669.00 L789.77,1668.81 L790.66,1668.64 L791.55,1668.46 L792.43,1668.30 L793.32,1668.13 L794.21,1667.98 L795.10,1667.83 L795.99,1667.69 L796.88,1667.56 L797.77,1667.44 L798.66,1667.32 L799.54,1667.21 L800.43,1667.10 L801.32,1666.99 L802.21,1666.88 L803.10,1666.77 L803.99,1666.67 L804.88,1666.56 L805.77,1666.45 L806.65,1666.35 L807.54,1666.25 L808.43,1666.14 L809.32,1666.04 L810.21,1665.95 L811.10,1665.85 L811.99,1665.76 L812.87,1665.67 L813.76,1665.58 L814.65,1665.50 L815.54,1665.42 L816.43,1665.34 L817.32,1665.27 L818.21,1665.20 L819.10,1665.14 L819.98,1665.08 L820.87,1665.02 L821.76,1664.97 L822.65,1664.93 L823.54,1664.89 L824.43,1664.85 L825.32,1664.82 L826.21,1664.80 L827.09,1664.79 L827.98,1664.78 L828.87,1664.77 L829.76,1664.78 L830.65,1664.78 L831.54,1664.79 L832.43,1664.81 L833.32,1664.82 L834.20,1664.85 L835.09,1664.87 L835.98,1664.90 L836.87,1664.93 L837.76,1664.96 L838.65,1665.00 L839.54,1665.04 L840.42,1665.08 L841.31,1665.13 L842.20,1665.18 L843.09,1665.23 L843.98,1665.28 L844.87,1665.33 L845.76,1665.39 L846.65,1665.44 L847.53,1665.50 L848.42,1665.56 L849.31,1665.62 L850.20,1665.68 L851.09,1665.75 L851.98,1665.81 L852.87,1665.87 L853.76,1665.94 L854.64,1666.01 L855.53,1666.09 L856.42,1666.18 L857.31,1666.28 L858.20,1666.39 L859.09,1666.51 L859.98,1666.63 L860.86,1666.76 L861.75,1666.90 L862.64,1667.04 L863.53,1667.19 L864.42,1667.35 L865.31,1667.50 L866.20,1667.67 L867.09,1667.84 L867.97,1668.01 L868.86,1668.18 L869.75,1668.36 L870.64,1668.53 L871.53,1668.71 L872.42,1668.90 L873.31,1669.08 L874.20,1669.26 L875.08,1669.44 L875.97,1669.62 L876.86,1669.80 L877.75,1669.98 L878.64,1670.16 L879.53,1670.34 L880.42,1670.52 L881.31,1670.70 L882.19,1670.89 L883.08,1671.08 L883.97,1671.27 L884.86,1671.46 L885.75,1671.66 L886.64,1671.86 L887.53,1672.06 L888.41,1672.27 L889.30,1672.48 L890.19,1672.69 L891.08,1672.90 L891.97,1673.11 L892.86,1673.33 L893.75,1673.55 L894.64,1673.77 L895.52,1674.00 L896.41,1674.22 L897.30,1674.45 L898.19,1674.68 L899.08,1674.91 L899.97,1675.15 L900.86,1675.39 L901.75,1675.63 L902.63,1675.87 L903.52,1676.11 L904.41,1676.36 L905.30,1676.60" fill="none" stroke="#000" stroke-width="2.5" stroke-dasharray="8.6 10.4" stroke-linecap="round" stroke-dashoffset="-1.5"/>
<path d="M837.00,1669.90 L837.00,1679.40" fill="none" stroke="#1a1a1a" stroke-width="1.9" stroke-linecap="round"/>
<polygon points="832.70,1678.40 841.30,1678.40 837.00,1684.60" fill="#1a1a1a" stroke="#1a1a1a" stroke-width="0.9" stroke-linejoin="round"/>
<path d="M121.50,1988.83 L122.39,1981.89 L123.28,1975.59 L124.17,1969.88 L125.06,1964.47 L125.95,1960.22 L126.84,1957.36 L127.74,1954.90 L128.63,1952.90 L129.52,1951.44 L130.41,1950.55 L131.30,1949.82 L132.19,1949.20 L133.08,1948.72 L133.97,1948.44 L134.86,1948.37 L135.75,1948.37 L136.64,1948.37 L137.53,1948.37 L138.43,1948.37 L139.32,1948.37 L140.21,1948.37 L141.10,1948.37 L141.99,1948.57 L142.88,1949.07 L143.77,1949.80 L144.66,1950.70 L145.55,1951.71 L146.44,1952.87 L147.33,1954.68 L148.22,1957.01 L149.11,1959.58 L150.01,1962.15 L150.90,1964.45 L151.79,1966.58 L152.68,1968.81 L153.57,1971.04 L154.46,1973.17 L155.35,1975.12 L156.24,1976.77 L157.13,1978.04 L158.02,1978.96 L158.91,1979.81 L159.80,1980.58 L160.69,1981.27 L161.59,1981.88 L162.48,1982.40 L163.37,1982.83 L164.26,1983.16 L165.15,1983.40 L166.04,1983.59 L166.93,1983.77 L167.82,1983.93 L168.71,1984.07 L169.60,1984.19 L170.49,1984.30 L171.38,1984.39 L172.28,1984.46 L173.17,1984.53 L174.06,1984.58 L174.95,1984.63 L175.84,1984.68 L176.73,1984.72 L177.62,1984.76 L178.51,1984.80 L179.40,1984.83 L180.29,1984.86 L181.18,1984.89 L182.07,1984.92 L182.96,1984.95 L183.86,1984.97 L184.75,1984.99 L185.64,1985.02 L186.53,1985.04 L187.42,1985.06 L188.31,1985.08 L189.20,1985.10 L190.09,1985.12 L190.98,1985.14 L191.87,1985.16 L192.76,1985.18 L193.65,1985.20 L194.55,1985.22 L195.44,1985.23 L196.33,1985.25 L197.22,1985.27 L198.11,1985.28 L199.00,1985.30 L199.89,1985.31 L200.78,1985.33 L201.67,1985.34 L202.56,1985.36 L203.45,1985.37 L204.34,1985.39 L205.23,1985.40 L206.13,1985.41 L207.02,1985.43 L207.91,1985.44 L208.80,1985.45 L209.69,1985.47 L210.58,1985.48 L211.47,1985.49 L212.36,1985.51 L213.25,1985.52 L214.14,1985.53 L215.03,1985.54 L215.92,1985.56 L216.82,1985.57 L217.71,1985.58 L218.60,1985.59 L219.49,1985.60 L220.38,1985.62 L221.27,1985.63 L222.16,1985.64 L223.05,1985.66 L223.94,1985.67 L224.83,1985.68 L225.72,1985.70 L226.61,1985.71 L227.50,1985.72 L228.40,1985.74 L229.29,1985.75 L230.18,1985.77 L231.07,1985.78 L231.96,1985.80 L232.85,1985.81 L233.74,1985.83 L234.63,1985.84 L235.52,1985.86 L236.41,1985.88 L237.30,1985.89 L238.19,1985.91 L239.08,1985.93 L239.98,1985.95 L240.87,1985.97 L241.76,1985.99 L242.65,1986.01 L243.54,1986.03 L244.43,1986.05 L245.32,1986.07 L246.21,1986.09 L247.10,1986.11 L247.99,1986.13 L248.88,1986.15 L249.77,1986.17 L250.67,1986.19 L251.56,1986.21 L252.45,1986.23 L253.34,1986.25 L254.23,1986.27 L255.12,1986.29 L256.01,1986.31 L256.90,1986.33 L257.79,1986.35 L258.68,1986.37 L259.57,1986.39 L260.46,1986.41 L261.35,1986.43 L262.25,1986.45 L263.14,1986.47 L264.03,1986.49 L264.92,1986.51 L265.81,1986.53 L266.70,1986.55 L267.59,1986.56 L268.48,1986.58 L269.37,1986.60 L270.26,1986.61 L271.15,1986.63 L272.04,1986.64 L272.94,1986.66 L273.83,1986.67 L274.72,1986.69 L275.61,1986.70 L276.50,1986.71 L277.39,1986.73 L278.28,1986.74 L279.17,1986.75 L280.06,1986.76 L280.95,1986.77 L281.84,1986.78 L282.73,1986.78 L283.62,1986.79 L284.52,1986.80 L285.41,1986.81 L286.30,1986.81 L287.19,1986.82 L288.08,1986.83 L288.97,1986.83 L289.86,1986.84 L290.75,1986.84 L291.64,1986.85 L292.53,1986.86 L293.42,1986.86 L294.31,1986.87 L295.21,1986.88 L296.10,1986.88 L296.99,1986.89 L297.88,1986.89 L298.77,1986.90 L299.66,1986.91 L300.55,1986.91 L301.44,1986.92 L302.33,1986.92 L303.22,1986.93 L304.11,1986.93 L305.00,1986.94 L305.89,1986.94 L306.79,1986.95 L307.68,1986.95 L308.57,1986.96 L309.46,1986.96 L310.35,1986.97 L311.24,1986.97 L312.13,1986.98 L313.02,1986.98 L313.91,1986.98 L314.80,1986.99 L315.69,1986.99 L316.58,1987.00 L317.47,1987.00 L318.37,1987.00 L319.26,1987.01 L320.15,1987.01 L321.04,1987.01 L321.93,1987.01 L322.82,1987.02 L323.71,1987.02 L324.60,1987.02 L325.49,1987.02 L326.38,1987.02 L327.27,1987.03 L328.16,1987.03 L329.06,1987.03 L329.95,1987.03 L330.84,1987.03 L331.73,1987.03 L332.62,1987.03 L333.51,1987.03 L334.40,1987.03" fill="none" stroke="#000" stroke-width="2.8" stroke-linejoin="round" stroke-linecap="round"/>
<path d="M138.53,1953.41 L138.53,1974.07 M136.93,1953.41 L140.13,1953.41 M136.93,1974.07 L140.13,1974.07" fill="none" stroke="#555555" stroke-width="1.5" />
<ellipse cx="138.53" cy="1963.38" rx="3.3" ry="4.15" fill="#e0282a"/>
<path d="M175.79,1968.42 L175.79,1990.75 M174.19,1968.42 L177.39,1968.42 M174.19,1990.75 L177.39,1990.75" fill="none" stroke="#555555" stroke-width="1.5" />
<ellipse cx="175.79" cy="1979.59" rx="3.3" ry="4.15" fill="#e0282a"/>
<path d="M280.47,1987.03 L280.47,2008.16 M278.87,1987.03 L282.07,1987.03 M278.87,2008.16 L282.07,2008.16" fill="none" stroke="#555555" stroke-width="1.5" />
<ellipse cx="280.47" cy="1998.92" rx="3.3" ry="4.15" fill="#e0282a"/>
<path d="M414.20,1988.87 L415.09,1982.04 L415.98,1975.84 L416.87,1970.22 L417.76,1964.89 L418.65,1960.71 L419.54,1957.90 L420.43,1955.48 L421.32,1953.51 L422.21,1952.08 L423.10,1951.20 L423.98,1950.48 L424.87,1949.87 L425.76,1949.40 L426.65,1949.12 L427.54,1949.06 L428.43,1949.06 L429.32,1949.06 L430.21,1949.06 L431.10,1949.06 L431.99,1949.06 L432.88,1949.06 L433.77,1949.06 L434.66,1949.26 L435.55,1949.75 L436.44,1950.46 L437.33,1951.35 L438.22,1952.34 L439.11,1953.47 L440.00,1955.21 L440.89,1957.43 L441.78,1959.93 L442.67,1962.47 L443.55,1964.87 L444.44,1967.22 L445.33,1969.78 L446.22,1972.42 L447.11,1975.00 L448.00,1977.37 L448.89,1979.39 L449.78,1980.92 L450.67,1982.01 L451.56,1983.00 L452.45,1983.92 L453.34,1984.74 L454.23,1985.46 L455.12,1986.08 L456.01,1986.57 L456.90,1986.94 L457.79,1987.18 L458.68,1987.38 L459.57,1987.57 L460.46,1987.73 L461.35,1987.88 L462.24,1988.01 L463.12,1988.12 L464.01,1988.22 L464.90,1988.30 L465.79,1988.35 L466.68,1988.40 L467.57,1988.43 L468.46,1988.46 L469.35,1988.49 L470.24,1988.51 L471.13,1988.54 L472.02,1988.56 L472.91,1988.59 L473.80,1988.61 L474.69,1988.63 L475.58,1988.65 L476.47,1988.66 L477.36,1988.68 L478.25,1988.69 L479.14,1988.70 L480.03,1988.71 L480.92,1988.72 L481.81,1988.73 L482.69,1988.74 L483.58,1988.74 L484.47,1988.75 L485.36,1988.75 L486.25,1988.75 L487.14,1988.75 L488.03,1988.75 L488.92,1988.76 L489.81,1988.76 L490.70,1988.76 L491.59,1988.76 L492.48,1988.76 L493.37,1988.77 L494.26,1988.77 L495.15,1988.77 L496.04,1988.77 L496.93,1988.77 L497.82,1988.77 L498.71,1988.77 L499.60,1988.78 L500.49,1988.78 L501.37,1988.78 L502.26,1988.78 L503.15,1988.78 L504.04,1988.78 L504.93,1988.79 L505.82,1988.79 L506.71,1988.79 L507.60,1988.79 L508.49,1988.79 L509.38,1988.79 L510.27,1988.79 L511.16,1988.80 L512.05,1988.80 L512.94,1988.80 L513.83,1988.80 L514.72,1988.80 L515.61,1988.80 L516.50,1988.80 L517.39,1988.80 L518.28,1988.81 L519.17,1988.81 L520.06,1988.81 L520.94,1988.81 L521.83,1988.81 L522.72,1988.81 L523.61,1988.81 L524.50,1988.81 L525.39,1988.81 L526.28,1988.82 L527.17,1988.82 L528.06,1988.82 L528.95,1988.82 L529.84,1988.82 L530.73,1988.82 L531.62,1988.82 L532.51,1988.82 L533.40,1988.82 L534.29,1988.83 L535.18,1988.83 L536.07,1988.83 L536.96,1988.83 L537.85,1988.83 L538.74,1988.83 L539.63,1988.83 L540.51,1988.83 L541.40,1988.83 L542.29,1988.83 L543.18,1988.83 L544.07,1988.83 L544.96,1988.84 L545.85,1988.84 L546.74,1988.84 L547.63,1988.84 L548.52,1988.84 L549.41,1988.84 L550.30,1988.84 L551.19,1988.84 L552.08,1988.84 L552.97,1988.84 L553.86,1988.84 L554.75,1988.84 L555.64,1988.84 L556.53,1988.85 L557.42,1988.85 L558.31,1988.85 L559.19,1988.85 L560.08,1988.85 L560.97,1988.85 L561.86,1988.85 L562.75,1988.85 L563.64,1988.85 L564.53,1988.85 L565.42,1988.85 L566.31,1988.85 L567.20,1988.85 L568.09,1988.85 L568.98,1988.85 L569.87,1988.85 L570.76,1988.85 L571.65,1988.85 L572.54,1988.85 L573.43,1988.86 L574.32,1988.86 L575.21,1988.86 L576.10,1988.86 L576.99,1988.86 L577.88,1988.86 L578.76,1988.86 L579.65,1988.86 L580.54,1988.86 L581.43,1988.86 L582.32,1988.86 L583.21,1988.86 L584.10,1988.86 L584.99,1988.86 L585.88,1988.86 L586.77,1988.86 L587.66,1988.86 L588.55,1988.86 L589.44,1988.86 L590.33,1988.86 L591.22,1988.86 L592.11,1988.86 L593.00,1988.86 L593.89,1988.86 L594.78,1988.86 L595.67,1988.86 L596.56,1988.86 L597.45,1988.86 L598.33,1988.86 L599.22,1988.86 L600.11,1988.86 L601.00,1988.86 L601.89,1988.86 L602.78,1988.86 L603.67,1988.86 L604.56,1988.87 L605.45,1988.87 L606.34,1988.87 L607.23,1988.87 L608.12,1988.87 L609.01,1988.87 L609.90,1988.87 L610.79,1988.87 L611.68,1988.87 L612.57,1988.87 L613.46,1988.87 L614.35,1988.87 L615.24,1988.87 L616.13,1988.87 L617.02,1988.87 L617.90,1988.87 L618.79,1988.87 L619.68,1988.87 L620.57,1988.87 L621.46,1988.87 L622.35,1988.87 L623.24,1988.87 L624.13,1988.87 L625.02,1988.87 L625.91,1988.87 L626.80,1988.87" fill="none" stroke="#1565b1" stroke-width="2.4" stroke-linejoin="round" stroke-linecap="round"/>
<path d="M414.20,1988.87 L415.09,1982.04 L415.98,1975.84 L416.87,1970.22 L417.76,1964.89 L418.65,1960.71 L419.54,1957.90 L420.43,1955.48 L421.32,1953.51 L422.21,1952.08 L423.10,1951.20 L423.98,1950.48 L424.87,1949.87 L425.76,1949.40 L426.65,1949.12 L427.54,1949.06 L428.43,1949.06 L429.32,1949.06 L430.21,1949.06 L431.10,1949.06 L431.99,1949.06 L432.88,1949.06 L433.77,1949.06 L434.66,1949.26 L435.55,1949.75 L436.44,1950.46 L437.33,1951.35 L438.22,1952.34 L439.11,1953.48 L440.00,1955.27 L440.89,1957.55 L441.78,1960.08 L442.67,1962.61 L443.55,1964.88 L444.44,1966.97 L445.33,1969.16 L446.22,1971.36 L447.11,1973.46 L448.00,1975.37 L448.89,1977.00 L449.78,1978.25 L450.67,1979.15 L451.56,1979.98 L452.45,1980.74 L453.34,1981.42 L454.23,1982.03 L455.12,1982.54 L456.01,1982.96 L456.90,1983.29 L457.79,1983.52 L458.68,1983.71 L459.57,1983.89 L460.46,1984.04 L461.35,1984.18 L462.24,1984.30 L463.12,1984.40 L464.01,1984.49 L464.90,1984.57 L465.79,1984.63 L466.68,1984.68 L467.57,1984.73 L468.46,1984.78 L469.35,1984.82 L470.24,1984.86 L471.13,1984.90 L472.02,1984.93 L472.91,1984.96 L473.80,1984.99 L474.69,1985.02 L475.58,1985.04 L476.47,1985.07 L477.36,1985.09 L478.25,1985.11 L479.14,1985.13 L480.03,1985.15 L480.92,1985.18 L481.81,1985.20 L482.69,1985.22 L483.58,1985.24 L484.47,1985.25 L485.36,1985.27 L486.25,1985.29 L487.14,1985.31 L488.03,1985.33 L488.92,1985.34 L489.81,1985.36 L490.70,1985.37 L491.59,1985.39 L492.48,1985.40 L493.37,1985.42 L494.26,1985.43 L495.15,1985.45 L496.04,1985.46 L496.93,1985.48 L497.82,1985.49 L498.71,1985.50 L499.60,1985.52 L500.49,1985.53 L501.37,1985.54 L502.26,1985.55 L503.15,1985.57 L504.04,1985.58 L504.93,1985.59 L505.82,1985.60 L506.71,1985.62 L507.60,1985.63 L508.49,1985.64 L509.38,1985.65 L510.27,1985.67 L511.16,1985.68 L512.05,1985.69 L512.94,1985.70 L513.83,1985.71 L514.72,1985.73 L515.61,1985.74 L516.50,1985.75 L517.39,1985.77 L518.28,1985.78 L519.17,1985.79 L520.06,1985.81 L520.94,1985.82 L521.83,1985.83 L522.72,1985.85 L523.61,1985.86 L524.50,1985.88 L525.39,1985.89 L526.28,1985.91 L527.17,1985.93 L528.06,1985.94 L528.95,1985.96 L529.84,1985.98 L530.73,1985.99 L531.62,1986.01 L532.51,1986.03 L533.40,1986.05 L534.29,1986.07 L535.18,1986.09 L536.07,1986.10 L536.96,1986.12 L537.85,1986.14 L538.74,1986.16 L539.63,1986.18 L540.51,1986.20 L541.40,1986.22 L542.29,1986.24 L543.18,1986.26 L544.07,1986.29 L544.96,1986.31 L545.85,1986.33 L546.74,1986.35 L547.63,1986.37 L548.52,1986.39 L549.41,1986.41 L550.30,1986.43 L551.19,1986.45 L552.08,1986.47 L552.97,1986.49 L553.86,1986.51 L554.75,1986.52 L555.64,1986.54 L556.53,1986.56 L557.42,1986.58 L558.31,1986.60 L559.19,1986.62 L560.08,1986.63 L560.97,1986.65 L561.86,1986.67 L562.75,1986.68 L563.64,1986.70 L564.53,1986.71 L565.42,1986.73 L566.31,1986.74 L567.20,1986.76 L568.09,1986.77 L568.98,1986.78 L569.87,1986.79 L570.76,1986.80 L571.65,1986.82 L572.54,1986.83 L573.43,1986.83 L574.32,1986.84 L575.21,1986.85 L576.10,1986.86 L576.99,1986.86 L577.88,1986.87 L578.76,1986.88 L579.65,1986.88 L580.54,1986.89 L581.43,1986.90 L582.32,1986.90 L583.21,1986.91 L584.10,1986.92 L584.99,1986.92 L585.88,1986.93 L586.77,1986.94 L587.66,1986.94 L588.55,1986.95 L589.44,1986.95 L590.33,1986.96 L591.22,1986.96 L592.11,1986.97 L593.00,1986.98 L593.89,1986.98 L594.78,1986.99 L595.67,1986.99 L596.56,1987.00 L597.45,1987.00 L598.33,1987.01 L599.22,1987.01 L600.11,1987.02 L601.00,1987.02 L601.89,1987.03 L602.78,1987.03 L603.67,1987.04 L604.56,1987.04 L605.45,1987.04 L606.34,1987.05 L607.23,1987.05 L608.12,1987.05 L609.01,1987.06 L609.90,1987.06 L610.79,1987.06 L611.68,1987.07 L612.57,1987.07 L613.46,1987.07 L614.35,1987.08 L615.24,1987.08 L616.13,1987.08 L617.02,1987.08 L617.90,1987.09 L618.79,1987.09 L619.68,1987.09 L620.57,1987.09 L621.46,1987.09 L622.35,1987.09 L623.24,1987.09 L624.13,1987.09 L625.02,1987.09 L625.91,1987.09 L626.80,1987.09" fill="none" stroke="#000" stroke-width="2.5" stroke-dasharray="8.6 10.4" stroke-linecap="round" stroke-dashoffset="-1.5"/>
<path d="M692.70,1988.60 L693.59,1981.76 L694.48,1975.55 L695.37,1969.91 L696.26,1964.57 L697.15,1960.38 L698.04,1957.56 L698.93,1955.14 L699.82,1953.17 L700.71,1951.73 L701.60,1950.85 L702.48,1950.13 L703.37,1949.51 L704.26,1949.05 L705.15,1948.77 L706.04,1948.70 L706.93,1948.70 L707.82,1948.70 L708.71,1948.70 L709.60,1948.70 L710.49,1948.70 L711.38,1948.70 L712.27,1948.70 L713.16,1948.90 L714.05,1949.39 L714.94,1950.11 L715.83,1951.00 L716.72,1951.99 L717.61,1953.13 L718.50,1954.92 L719.39,1957.21 L720.28,1959.75 L721.17,1962.28 L722.05,1964.56 L722.94,1966.66 L723.83,1968.85 L724.72,1971.05 L725.61,1973.16 L726.50,1975.07 L727.39,1976.70 L728.28,1977.96 L729.17,1978.87 L730.06,1979.70 L730.95,1980.46 L731.84,1981.14 L732.73,1981.74 L733.62,1982.26 L734.51,1982.68 L735.40,1983.01 L736.29,1983.24 L737.18,1983.43 L738.07,1983.61 L738.96,1983.76 L739.85,1983.90 L740.74,1984.02 L741.62,1984.13 L742.51,1984.22 L743.40,1984.29 L744.29,1984.35 L745.18,1984.41 L746.07,1984.46 L746.96,1984.50 L747.85,1984.55 L748.74,1984.58 L749.63,1984.62 L750.52,1984.65 L751.41,1984.68 L752.30,1984.71 L753.19,1984.74 L754.08,1984.77 L754.97,1984.79 L755.86,1984.81 L756.75,1984.84 L757.64,1984.86 L758.53,1984.88 L759.42,1984.90 L760.31,1984.92 L761.19,1984.94 L762.08,1984.96 L762.97,1984.98 L763.86,1985.00 L764.75,1985.02 L765.64,1985.03 L766.53,1985.05 L767.42,1985.07 L768.31,1985.08 L769.20,1985.10 L770.09,1985.11 L770.98,1985.13 L771.87,1985.15 L772.76,1985.16 L773.65,1985.17 L774.54,1985.19 L775.43,1985.20 L776.32,1985.22 L777.21,1985.23 L778.10,1985.24 L778.99,1985.26 L779.87,1985.27 L780.76,1985.28 L781.65,1985.29 L782.54,1985.31 L783.43,1985.32 L784.32,1985.33 L785.21,1985.34 L786.10,1985.35 L786.99,1985.37 L787.88,1985.38 L788.77,1985.39 L789.66,1985.40 L790.55,1985.42 L791.44,1985.43 L792.33,1985.44 L793.22,1985.45 L794.11,1985.47 L795.00,1985.48 L795.89,1985.49 L796.78,1985.51 L797.67,1985.52 L798.56,1985.53 L799.44,1985.55 L800.33,1985.56 L801.22,1985.58 L802.11,1985.59 L803.00,1985.60 L803.89,1985.62 L804.78,1985.64 L805.67,1985.65 L806.56,1985.67 L807.45,1985.68 L808.34,1985.70 L809.23,1985.72 L810.12,1985.74 L811.01,1985.76 L811.90,1985.77 L812.79,1985.79 L813.68,1985.81 L814.57,1985.83 L815.46,1985.85 L816.35,1985.87 L817.24,1985.89 L818.13,1985.91 L819.01,1985.93 L819.90,1985.95 L820.79,1985.97 L821.68,1985.99 L822.57,1986.01 L823.46,1986.03 L824.35,1986.05 L825.24,1986.07 L826.13,1986.09 L827.02,1986.11 L827.91,1986.13 L828.80,1986.15 L829.69,1986.17 L830.58,1986.19 L831.47,1986.21 L832.36,1986.23 L833.25,1986.25 L834.14,1986.27 L835.03,1986.29 L835.92,1986.31 L836.81,1986.33 L837.69,1986.34 L838.58,1986.36 L839.47,1986.38 L840.36,1986.40 L841.25,1986.41 L842.14,1986.43 L843.03,1986.44 L843.92,1986.46 L844.81,1986.47 L845.70,1986.48 L846.59,1986.50 L847.48,1986.51 L848.37,1986.52 L849.26,1986.53 L850.15,1986.54 L851.04,1986.55 L851.93,1986.56 L852.82,1986.57 L853.71,1986.58 L854.60,1986.59 L855.49,1986.59 L856.38,1986.60 L857.26,1986.61 L858.15,1986.61 L859.04,1986.62 L859.93,1986.63 L860.82,1986.63 L861.71,1986.64 L862.60,1986.65 L863.49,1986.65 L864.38,1986.66 L865.27,1986.66 L866.16,1986.67 L867.05,1986.68 L867.94,1986.68 L868.83,1986.69 L869.72,1986.69 L870.61,1986.70 L871.50,1986.70 L872.39,1986.71 L873.28,1986.72 L874.17,1986.72 L875.06,1986.73 L875.95,1986.73 L876.83,1986.74 L877.72,1986.74 L878.61,1986.75 L879.50,1986.75 L880.39,1986.76 L881.28,1986.76 L882.17,1986.76 L883.06,1986.77 L883.95,1986.77 L884.84,1986.78 L885.73,1986.78 L886.62,1986.78 L887.51,1986.79 L888.40,1986.79 L889.29,1986.79 L890.18,1986.80 L891.07,1986.80 L891.96,1986.80 L892.85,1986.81 L893.74,1986.81 L894.63,1986.81 L895.52,1986.81 L896.40,1986.81 L897.29,1986.82 L898.18,1986.82 L899.07,1986.82 L899.96,1986.82 L900.85,1986.82 L901.74,1986.82 L902.63,1986.82 L903.52,1986.82 L904.41,1986.82 L905.30,1986.82" fill="none" stroke="#2eb36b" stroke-width="2.4" stroke-linejoin="round" stroke-linecap="round"/>
<path d="M692.70,1988.60 L693.59,1981.76 L694.48,1975.55 L695.37,1969.91 L696.26,1964.57 L697.15,1960.38 L698.04,1957.56 L698.93,1955.14 L699.82,1953.17 L700.71,1951.73 L701.60,1950.85 L702.48,1950.13 L703.37,1949.51 L704.26,1949.05 L705.15,1948.77 L706.04,1948.70 L706.93,1948.70 L707.82,1948.70 L708.71,1948.70 L709.60,1948.70 L710.49,1948.70 L711.38,1948.70 L712.27,1948.70 L713.16,1948.90 L714.05,1949.39 L714.94,1950.11 L715.83,1951.00 L716.72,1951.99 L717.61,1953.13 L718.50,1954.92 L719.39,1957.21 L720.28,1959.75 L721.17,1962.28 L722.05,1964.56 L722.94,1966.66 L723.83,1968.85 L724.72,1971.05 L725.61,1973.16 L726.50,1975.07 L727.39,1976.70 L728.28,1977.96 L729.17,1978.87 L730.06,1979.70 L730.95,1980.46 L731.84,1981.14 L732.73,1981.74 L733.62,1982.26 L734.51,1982.68 L735.40,1983.01 L736.29,1983.24 L737.18,1983.43 L738.07,1983.61 L738.96,1983.76 L739.85,1983.90 L740.74,1984.02 L741.62,1984.13 L742.51,1984.22 L743.40,1984.29 L744.29,1984.35 L745.18,1984.41 L746.07,1984.46 L746.96,1984.50 L747.85,1984.55 L748.74,1984.58 L749.63,1984.62 L750.52,1984.65 L751.41,1984.68 L752.30,1984.71 L753.19,1984.74 L754.08,1984.77 L754.97,1984.79 L755.86,1984.81 L756.75,1984.84 L757.64,1984.86 L758.53,1984.88 L759.42,1984.90 L760.31,1984.92 L761.19,1984.94 L762.08,1984.96 L762.97,1984.98 L763.86,1985.00 L764.75,1985.02 L765.64,1985.03 L766.53,1985.05 L767.42,1985.07 L768.31,1985.08 L769.20,1985.10 L770.09,1985.11 L770.98,1985.13 L771.87,1985.15 L772.76,1985.16 L773.65,1985.17 L774.54,1985.19 L775.43,1985.20 L776.32,1985.22 L777.21,1985.23 L778.10,1985.24 L778.99,1985.26 L779.87,1985.27 L780.76,1985.28 L781.65,1985.29 L782.54,1985.31 L783.43,1985.32 L784.32,1985.33 L785.21,1985.34 L786.10,1985.35 L786.99,1985.37 L787.88,1985.38 L788.77,1985.39 L789.66,1985.40 L790.55,1985.42 L791.44,1985.43 L792.33,1985.44 L793.22,1985.45 L794.11,1985.47 L795.00,1985.48 L795.89,1985.49 L796.78,1985.51 L797.67,1985.52 L798.56,1985.53 L799.44,1985.55 L800.33,1985.56 L801.22,1985.58 L802.11,1985.59 L803.00,1985.60 L803.89,1985.62 L804.78,1985.64 L805.67,1985.65 L806.56,1985.67 L807.45,1985.68 L808.34,1985.70 L809.23,1985.72 L810.12,1985.74 L811.01,1985.76 L811.90,1985.77 L812.79,1985.79 L813.68,1985.81 L814.57,1985.83 L815.46,1985.85 L816.35,1985.87 L817.24,1985.89 L818.13,1985.91 L819.01,1985.93 L819.90,1985.95 L820.79,1985.97 L821.68,1985.99 L822.57,1986.01 L823.46,1986.03 L824.35,1986.05 L825.24,1986.07 L826.13,1986.09 L827.02,1986.11 L827.91,1986.13 L828.80,1986.15 L829.69,1986.17 L830.58,1986.19 L831.47,1986.21 L832.36,1986.23 L833.25,1986.25 L834.14,1986.27 L835.03,1986.29 L835.92,1986.31 L836.81,1986.33 L837.69,1986.34 L838.58,1986.36 L839.47,1986.38 L840.36,1986.40 L841.25,1986.41 L842.14,1986.43 L843.03,1986.44 L843.92,1986.46 L844.81,1986.47 L845.70,1986.48 L846.59,1986.50 L847.48,1986.51 L848.37,1986.52 L849.26,1986.53 L850.15,1986.54 L851.04,1986.55 L851.93,1986.56 L852.82,1986.57 L853.71,1986.58 L854.60,1986.59 L855.49,1986.59 L856.38,1986.60 L857.26,1986.61 L858.15,1986.61 L859.04,1986.62 L859.93,1986.63 L860.82,1986.63 L861.71,1986.64 L862.60,1986.65 L863.49,1986.65 L864.38,1986.66 L865.27,1986.66 L866.16,1986.67 L867.05,1986.68 L867.94,1986.68 L868.83,1986.69 L869.72,1986.69 L870.61,1986.70 L871.50,1986.70 L872.39,1986.71 L873.28,1986.72 L874.17,1986.72 L875.06,1986.73 L875.95,1986.73 L876.83,1986.74 L877.72,1986.74 L878.61,1986.75 L879.50,1986.75 L880.39,1986.76 L881.28,1986.76 L882.17,1986.76 L883.06,1986.77 L883.95,1986.77 L884.84,1986.78 L885.73,1986.78 L886.62,1986.78 L887.51,1986.79 L888.40,1986.79 L889.29,1986.79 L890.18,1986.80 L891.07,1986.80 L891.96,1986.80 L892.85,1986.81 L893.74,1986.81 L894.63,1986.81 L895.52,1986.81 L896.40,1986.81 L897.29,1986.82 L898.18,1986.82 L899.07,1986.82 L899.96,1986.82 L900.85,1986.82 L901.74,1986.82 L902.63,1986.82 L903.52,1986.82 L904.41,1986.82 L905.30,1986.82" fill="none" stroke="#000" stroke-width="2.5" stroke-dasharray="8.6 10.4" stroke-linecap="round" stroke-dashoffset="-1.5"/>
</svg>
</body></html>
